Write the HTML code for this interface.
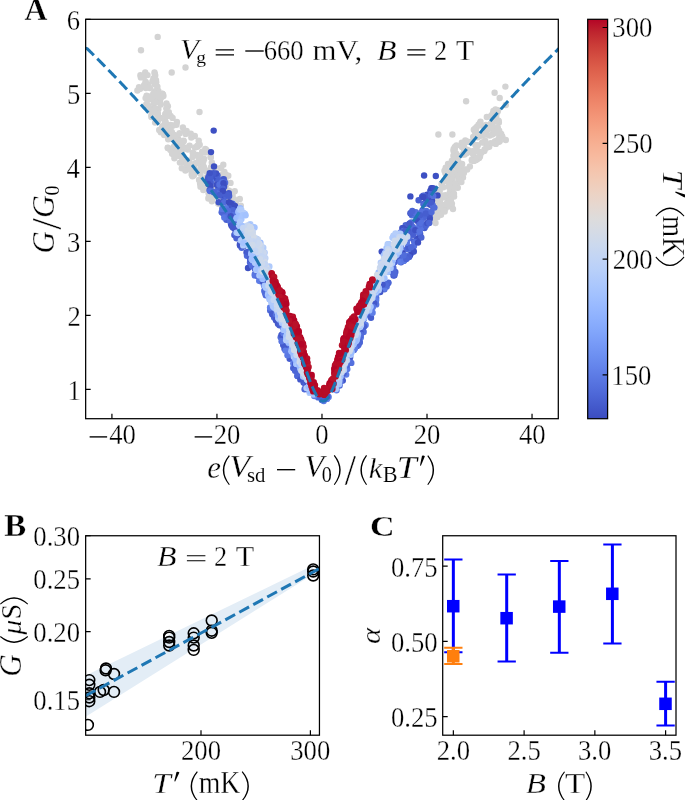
<!DOCTYPE html>
<html><head><meta charset="utf-8"><title>Figure</title><style>html,body{margin:0;padding:0;background:#fff;overflow:hidden}svg{display:block}</style></head><body>
<svg width="685" height="800" viewBox="0 0 685 800" font-family="Liberation Serif" font-size="100" style="will-change:transform">
<defs><linearGradient id="cw" x1="0" y1="0" x2="0" y2="1"><stop offset="0.0000" stop-color="#b40426"/><stop offset="0.0312" stop-color="#be242e"/><stop offset="0.0625" stop-color="#ca3b37"/><stop offset="0.0938" stop-color="#d44e41"/><stop offset="0.1250" stop-color="#dd5f4b"/><stop offset="0.1562" stop-color="#e46e56"/><stop offset="0.1875" stop-color="#eb7d62"/><stop offset="0.2188" stop-color="#f08b6e"/><stop offset="0.2500" stop-color="#f4987a"/><stop offset="0.2812" stop-color="#f6a586"/><stop offset="0.3125" stop-color="#f7b093"/><stop offset="0.3438" stop-color="#f7ba9f"/><stop offset="0.3750" stop-color="#f5c4ac"/><stop offset="0.4062" stop-color="#f1ccb8"/><stop offset="0.4375" stop-color="#ecd3c5"/><stop offset="0.4688" stop-color="#e5d8d1"/><stop offset="0.5000" stop-color="#dddcdc"/><stop offset="0.5312" stop-color="#d5dbe5"/><stop offset="0.5625" stop-color="#ccd9ed"/><stop offset="0.5938" stop-color="#c3d5f4"/><stop offset="0.6250" stop-color="#b9d0f9"/><stop offset="0.6562" stop-color="#aec9fc"/><stop offset="0.6875" stop-color="#a3c2fe"/><stop offset="0.7188" stop-color="#98b9ff"/><stop offset="0.7500" stop-color="#8db0fe"/><stop offset="0.7812" stop-color="#82a6fb"/><stop offset="0.8125" stop-color="#779af7"/><stop offset="0.8438" stop-color="#6c8ff1"/><stop offset="0.8750" stop-color="#6282ea"/><stop offset="0.9062" stop-color="#5875e1"/><stop offset="0.9375" stop-color="#4e68d8"/><stop offset="0.9688" stop-color="#445acc"/><stop offset="1.0000" stop-color="#3b4cc0"/></linearGradient>
<clipPath id="ca"><rect x="85.66" y="19.30" width="472.64" height="399.40"/></clipPath>
<clipPath id="cb"><rect x="85.66" y="535.75" width="233.79" height="199.45"/></clipPath>
<clipPath id="cc"><rect x="442.70" y="535.75" width="233.30" height="199.45"/></clipPath></defs>
<rect width="685" height="800" fill="#fff"/>
<g clip-path="url(#ca)">
<circle cx="153.4" cy="78.4" r="3.2" fill="#d3d3d3"/><circle cx="144.3" cy="76.1" r="3.2" fill="#d3d3d3"/><circle cx="145.2" cy="72.4" r="3.2" fill="#d3d3d3"/><circle cx="140.4" cy="75.3" r="3.2" fill="#d3d3d3"/><circle cx="154.5" cy="72.4" r="3.2" fill="#d3d3d3"/><circle cx="143.7" cy="77.2" r="3.2" fill="#d3d3d3"/><circle cx="155.2" cy="75.5" r="3.2" fill="#d3d3d3"/><circle cx="154.2" cy="79.2" r="3.2" fill="#d3d3d3"/><circle cx="147.5" cy="75.1" r="3.2" fill="#d3d3d3"/><circle cx="140.9" cy="77.4" r="3.2" fill="#d3d3d3"/><circle cx="144.8" cy="85.6" r="3.2" fill="#d3d3d3"/><circle cx="140.2" cy="88.8" r="3.2" fill="#d3d3d3"/><circle cx="157.4" cy="86.8" r="3.2" fill="#d3d3d3"/><circle cx="156.2" cy="82.3" r="3.2" fill="#d3d3d3"/><circle cx="139.2" cy="88.7" r="3.2" fill="#d3d3d3"/><circle cx="139.0" cy="87.1" r="3.2" fill="#d3d3d3"/><circle cx="148.1" cy="85.0" r="3.2" fill="#d3d3d3"/><circle cx="145.7" cy="82.0" r="3.2" fill="#d3d3d3"/><circle cx="145.8" cy="88.1" r="3.2" fill="#d3d3d3"/><circle cx="152.4" cy="81.5" r="3.2" fill="#d3d3d3"/><circle cx="155.1" cy="84.5" r="3.2" fill="#d3d3d3"/><circle cx="145.6" cy="82.4" r="3.2" fill="#d3d3d3"/><circle cx="149.9" cy="88.0" r="3.2" fill="#d3d3d3"/><circle cx="144.1" cy="85.1" r="3.2" fill="#d3d3d3"/><circle cx="156.0" cy="80.1" r="3.2" fill="#d3d3d3"/><circle cx="158.4" cy="90.9" r="3.2" fill="#d3d3d3"/><circle cx="162.4" cy="93.7" r="3.2" fill="#d3d3d3"/><circle cx="162.2" cy="94.0" r="3.2" fill="#d3d3d3"/><circle cx="146.6" cy="95.6" r="3.2" fill="#d3d3d3"/><circle cx="157.7" cy="97.4" r="3.2" fill="#d3d3d3"/><circle cx="152.5" cy="96.8" r="3.2" fill="#d3d3d3"/><circle cx="154.4" cy="92.2" r="3.2" fill="#d3d3d3"/><circle cx="155.0" cy="91.1" r="3.2" fill="#d3d3d3"/><circle cx="150.2" cy="96.4" r="3.2" fill="#d3d3d3"/><circle cx="146.6" cy="98.0" r="3.2" fill="#d3d3d3"/><circle cx="158.9" cy="93.9" r="3.2" fill="#d3d3d3"/><circle cx="156.9" cy="93.8" r="3.2" fill="#d3d3d3"/><circle cx="163.4" cy="96.1" r="3.2" fill="#d3d3d3"/><circle cx="160.1" cy="99.9" r="3.2" fill="#d3d3d3"/><circle cx="145.6" cy="98.1" r="3.2" fill="#d3d3d3"/><circle cx="161.7" cy="97.1" r="3.2" fill="#d3d3d3"/><circle cx="153.2" cy="94.0" r="3.2" fill="#d3d3d3"/><circle cx="163.1" cy="94.8" r="3.2" fill="#d3d3d3"/><circle cx="153.9" cy="103.2" r="3.2" fill="#d3d3d3"/><circle cx="152.9" cy="100.0" r="3.2" fill="#d3d3d3"/><circle cx="167.9" cy="106.3" r="3.2" fill="#d3d3d3"/><circle cx="155.0" cy="109.2" r="3.2" fill="#d3d3d3"/><circle cx="152.1" cy="109.9" r="3.2" fill="#d3d3d3"/><circle cx="150.6" cy="108.2" r="3.2" fill="#d3d3d3"/><circle cx="146.6" cy="104.1" r="3.2" fill="#d3d3d3"/><circle cx="166.3" cy="108.6" r="3.2" fill="#d3d3d3"/><circle cx="156.1" cy="101.4" r="3.2" fill="#d3d3d3"/><circle cx="155.8" cy="102.6" r="3.2" fill="#d3d3d3"/><circle cx="148.1" cy="105.5" r="3.2" fill="#d3d3d3"/><circle cx="153.6" cy="108.6" r="3.2" fill="#d3d3d3"/><circle cx="146.4" cy="104.5" r="3.2" fill="#d3d3d3"/><circle cx="147.5" cy="100.0" r="3.2" fill="#d3d3d3"/><circle cx="166.5" cy="103.4" r="3.2" fill="#d3d3d3"/><circle cx="158.4" cy="108.9" r="3.2" fill="#d3d3d3"/><circle cx="160.8" cy="104.5" r="3.2" fill="#d3d3d3"/><circle cx="155.0" cy="108.6" r="3.2" fill="#d3d3d3"/><circle cx="160.6" cy="117.9" r="3.2" fill="#d3d3d3"/><circle cx="167.3" cy="115.9" r="3.2" fill="#d3d3d3"/><circle cx="165.9" cy="115.0" r="3.2" fill="#d3d3d3"/><circle cx="151.4" cy="117.0" r="3.2" fill="#d3d3d3"/><circle cx="151.5" cy="110.4" r="3.2" fill="#d3d3d3"/><circle cx="153.5" cy="112.1" r="3.2" fill="#d3d3d3"/><circle cx="153.1" cy="110.5" r="3.2" fill="#d3d3d3"/><circle cx="170.6" cy="116.0" r="3.2" fill="#d3d3d3"/><circle cx="157.9" cy="113.5" r="3.2" fill="#d3d3d3"/><circle cx="165.3" cy="114.2" r="3.2" fill="#d3d3d3"/><circle cx="172.6" cy="117.9" r="3.2" fill="#d3d3d3"/><circle cx="165.7" cy="113.8" r="3.2" fill="#d3d3d3"/><circle cx="168.2" cy="113.4" r="3.2" fill="#d3d3d3"/><circle cx="168.8" cy="112.3" r="3.2" fill="#d3d3d3"/><circle cx="166.6" cy="115.1" r="3.2" fill="#d3d3d3"/><circle cx="157.6" cy="115.3" r="3.2" fill="#d3d3d3"/><circle cx="151.4" cy="114.9" r="3.2" fill="#d3d3d3"/><circle cx="164.8" cy="120.4" r="3.2" fill="#d3d3d3"/><circle cx="176.5" cy="124.8" r="3.2" fill="#d3d3d3"/><circle cx="165.1" cy="120.2" r="3.2" fill="#d3d3d3"/><circle cx="170.5" cy="124.9" r="3.2" fill="#d3d3d3"/><circle cx="170.7" cy="127.3" r="3.2" fill="#d3d3d3"/><circle cx="168.4" cy="125.6" r="3.2" fill="#d3d3d3"/><circle cx="162.3" cy="126.2" r="3.2" fill="#d3d3d3"/><circle cx="173.1" cy="125.5" r="3.2" fill="#d3d3d3"/><circle cx="176.9" cy="121.9" r="3.2" fill="#d3d3d3"/><circle cx="182.9" cy="127.5" r="3.2" fill="#d3d3d3"/><circle cx="164.9" cy="122.9" r="3.2" fill="#d3d3d3"/><circle cx="155.1" cy="122.6" r="3.2" fill="#d3d3d3"/><circle cx="158.2" cy="120.2" r="3.2" fill="#d3d3d3"/><circle cx="161.5" cy="128.6" r="3.2" fill="#d3d3d3"/><circle cx="162.8" cy="126.9" r="3.2" fill="#d3d3d3"/><circle cx="157.4" cy="120.7" r="3.2" fill="#d3d3d3"/><circle cx="169.6" cy="126.8" r="3.2" fill="#d3d3d3"/><circle cx="167.2" cy="125.5" r="3.2" fill="#d3d3d3"/><circle cx="165.8" cy="122.7" r="3.2" fill="#d3d3d3"/><circle cx="162.9" cy="129.2" r="3.2" fill="#d3d3d3"/><circle cx="170.9" cy="137.3" r="3.2" fill="#d3d3d3"/><circle cx="168.8" cy="131.9" r="3.2" fill="#d3d3d3"/><circle cx="186.6" cy="130.9" r="3.2" fill="#d3d3d3"/><circle cx="165.5" cy="133.7" r="3.2" fill="#d3d3d3"/><circle cx="159.2" cy="130.0" r="3.2" fill="#d3d3d3"/><circle cx="171.9" cy="132.1" r="3.2" fill="#d3d3d3"/><circle cx="194.8" cy="136.0" r="3.2" fill="#d3d3d3"/><circle cx="171.9" cy="138.9" r="3.2" fill="#d3d3d3"/><circle cx="192.9" cy="136.1" r="3.2" fill="#d3d3d3"/><circle cx="184.3" cy="131.0" r="3.2" fill="#d3d3d3"/><circle cx="185.6" cy="134.0" r="3.2" fill="#d3d3d3"/><circle cx="179.6" cy="133.2" r="3.2" fill="#d3d3d3"/><circle cx="164.2" cy="135.1" r="3.2" fill="#d3d3d3"/><circle cx="191.3" cy="137.6" r="3.2" fill="#d3d3d3"/><circle cx="173.5" cy="134.8" r="3.2" fill="#d3d3d3"/><circle cx="177.2" cy="139.5" r="3.2" fill="#d3d3d3"/><circle cx="178.2" cy="138.8" r="3.2" fill="#d3d3d3"/><circle cx="171.6" cy="133.7" r="3.2" fill="#d3d3d3"/><circle cx="166.2" cy="130.6" r="3.2" fill="#d3d3d3"/><circle cx="160.8" cy="132.3" r="3.2" fill="#d3d3d3"/><circle cx="175.8" cy="135.4" r="3.2" fill="#d3d3d3"/><circle cx="162.2" cy="130.3" r="3.2" fill="#d3d3d3"/><circle cx="168.2" cy="139.2" r="3.2" fill="#d3d3d3"/><circle cx="190.8" cy="133.7" r="3.2" fill="#d3d3d3"/><circle cx="170.7" cy="131.1" r="3.2" fill="#d3d3d3"/><circle cx="168.0" cy="148.0" r="3.2" fill="#d3d3d3"/><circle cx="198.7" cy="140.7" r="3.2" fill="#d3d3d3"/><circle cx="176.9" cy="146.8" r="3.2" fill="#d3d3d3"/><circle cx="175.4" cy="144.8" r="3.2" fill="#d3d3d3"/><circle cx="205.3" cy="148.9" r="3.2" fill="#d3d3d3"/><circle cx="183.6" cy="140.7" r="3.2" fill="#d3d3d3"/><circle cx="179.8" cy="141.8" r="3.2" fill="#d3d3d3"/><circle cx="195.0" cy="147.4" r="3.2" fill="#d3d3d3"/><circle cx="177.1" cy="141.9" r="3.2" fill="#d3d3d3"/><circle cx="180.4" cy="144.3" r="3.2" fill="#d3d3d3"/><circle cx="197.5" cy="146.8" r="3.2" fill="#d3d3d3"/><circle cx="182.0" cy="143.4" r="3.2" fill="#d3d3d3"/><circle cx="177.7" cy="140.7" r="3.2" fill="#d3d3d3"/><circle cx="187.8" cy="149.5" r="3.2" fill="#d3d3d3"/><circle cx="189.6" cy="145.6" r="3.2" fill="#d3d3d3"/><circle cx="197.4" cy="145.7" r="3.2" fill="#d3d3d3"/><circle cx="176.9" cy="142.6" r="3.2" fill="#d3d3d3"/><circle cx="187.4" cy="148.9" r="3.2" fill="#d3d3d3"/><circle cx="173.4" cy="149.6" r="3.2" fill="#d3d3d3"/><circle cx="185.8" cy="147.8" r="3.2" fill="#d3d3d3"/><circle cx="199.7" cy="144.7" r="3.2" fill="#d3d3d3"/><circle cx="183.6" cy="141.3" r="3.2" fill="#d3d3d3"/><circle cx="177.8" cy="142.5" r="3.2" fill="#d3d3d3"/><circle cx="183.0" cy="148.2" r="3.2" fill="#d3d3d3"/><circle cx="167.7" cy="147.8" r="3.2" fill="#d3d3d3"/><circle cx="206.3" cy="150.0" r="3.2" fill="#d3d3d3"/><circle cx="174.4" cy="146.8" r="3.2" fill="#d3d3d3"/><circle cx="174.0" cy="146.6" r="3.2" fill="#d3d3d3"/><circle cx="172.1" cy="153.7" r="3.2" fill="#d3d3d3"/><circle cx="174.8" cy="150.7" r="3.2" fill="#d3d3d3"/><circle cx="202.4" cy="151.8" r="3.2" fill="#d3d3d3"/><circle cx="202.2" cy="152.4" r="3.2" fill="#d3d3d3"/><circle cx="170.4" cy="150.1" r="3.2" fill="#d3d3d3"/><circle cx="205.6" cy="150.6" r="3.2" fill="#d3d3d3"/><circle cx="174.4" cy="158.2" r="3.2" fill="#d3d3d3"/><circle cx="183.0" cy="159.3" r="3.2" fill="#d3d3d3"/><circle cx="192.8" cy="152.6" r="3.2" fill="#d3d3d3"/><circle cx="207.9" cy="152.0" r="3.2" fill="#d3d3d3"/><circle cx="192.9" cy="153.7" r="3.2" fill="#d3d3d3"/><circle cx="182.9" cy="155.7" r="3.2" fill="#d3d3d3"/><circle cx="210.7" cy="157.3" r="3.2" fill="#d3d3d3"/><circle cx="175.5" cy="156.0" r="3.2" fill="#d3d3d3"/><circle cx="198.8" cy="158.1" r="3.2" fill="#d3d3d3"/><circle cx="196.7" cy="154.9" r="3.2" fill="#d3d3d3"/><circle cx="181.8" cy="152.6" r="3.2" fill="#d3d3d3"/><circle cx="174.3" cy="155.2" r="3.2" fill="#d3d3d3"/><circle cx="179.2" cy="155.9" r="3.2" fill="#d3d3d3"/><circle cx="205.2" cy="152.5" r="3.2" fill="#d3d3d3"/><circle cx="181.5" cy="155.9" r="3.2" fill="#d3d3d3"/><circle cx="210.8" cy="157.0" r="3.2" fill="#d3d3d3"/><circle cx="204.2" cy="159.0" r="3.2" fill="#d3d3d3"/><circle cx="193.2" cy="153.3" r="3.2" fill="#d3d3d3"/><circle cx="175.6" cy="155.8" r="3.2" fill="#d3d3d3"/><circle cx="192.7" cy="156.9" r="3.2" fill="#d3d3d3"/><circle cx="200.1" cy="155.2" r="3.2" fill="#d3d3d3"/><circle cx="177.1" cy="150.8" r="3.2" fill="#d3d3d3"/><circle cx="195.4" cy="169.9" r="3.2" fill="#d3d3d3"/><circle cx="179.9" cy="162.6" r="3.2" fill="#d3d3d3"/><circle cx="199.2" cy="163.1" r="3.2" fill="#d3d3d3"/><circle cx="186.1" cy="160.4" r="3.2" fill="#d3d3d3"/><circle cx="183.0" cy="162.6" r="3.2" fill="#d3d3d3"/><circle cx="220.7" cy="167.9" r="3.2" fill="#d3d3d3"/><circle cx="200.6" cy="169.2" r="3.2" fill="#d3d3d3"/><circle cx="188.6" cy="160.7" r="3.2" fill="#d3d3d3"/><circle cx="194.3" cy="165.2" r="3.2" fill="#d3d3d3"/><circle cx="211.0" cy="167.3" r="3.2" fill="#d3d3d3"/><circle cx="201.6" cy="169.0" r="3.2" fill="#d3d3d3"/><circle cx="211.8" cy="162.4" r="3.2" fill="#d3d3d3"/><circle cx="187.3" cy="168.8" r="3.2" fill="#d3d3d3"/><circle cx="201.9" cy="162.1" r="3.2" fill="#d3d3d3"/><circle cx="221.0" cy="168.2" r="3.2" fill="#d3d3d3"/><circle cx="182.3" cy="160.2" r="3.2" fill="#d3d3d3"/><circle cx="200.0" cy="164.2" r="3.2" fill="#d3d3d3"/><circle cx="204.0" cy="167.8" r="3.2" fill="#d3d3d3"/><circle cx="188.6" cy="165.2" r="3.2" fill="#d3d3d3"/><circle cx="203.6" cy="166.5" r="3.2" fill="#d3d3d3"/><circle cx="190.4" cy="169.5" r="3.2" fill="#d3d3d3"/><circle cx="189.4" cy="161.2" r="3.2" fill="#d3d3d3"/><circle cx="195.2" cy="163.3" r="3.2" fill="#d3d3d3"/><circle cx="203.2" cy="161.7" r="3.2" fill="#d3d3d3"/><circle cx="181.8" cy="168.2" r="3.2" fill="#d3d3d3"/><circle cx="186.0" cy="169.1" r="3.2" fill="#d3d3d3"/><circle cx="196.2" cy="163.1" r="3.2" fill="#d3d3d3"/><circle cx="186.9" cy="164.2" r="3.2" fill="#d3d3d3"/><circle cx="214.9" cy="167.3" r="3.2" fill="#d3d3d3"/><circle cx="191.9" cy="172.3" r="3.2" fill="#d3d3d3"/><circle cx="193.9" cy="175.2" r="3.2" fill="#d3d3d3"/><circle cx="225.3" cy="179.4" r="3.2" fill="#d3d3d3"/><circle cx="207.2" cy="178.3" r="3.2" fill="#d3d3d3"/><circle cx="206.0" cy="177.9" r="3.2" fill="#d3d3d3"/><circle cx="191.7" cy="174.6" r="3.2" fill="#d3d3d3"/><circle cx="211.4" cy="170.4" r="3.2" fill="#d3d3d3"/><circle cx="224.4" cy="171.9" r="3.2" fill="#d3d3d3"/><circle cx="211.6" cy="175.7" r="3.2" fill="#d3d3d3"/><circle cx="203.2" cy="178.9" r="3.2" fill="#d3d3d3"/><circle cx="192.2" cy="170.1" r="3.2" fill="#d3d3d3"/><circle cx="193.5" cy="174.6" r="3.2" fill="#d3d3d3"/><circle cx="216.0" cy="172.8" r="3.2" fill="#d3d3d3"/><circle cx="200.5" cy="173.8" r="3.2" fill="#d3d3d3"/><circle cx="207.1" cy="172.3" r="3.2" fill="#d3d3d3"/><circle cx="199.1" cy="180.0" r="3.2" fill="#d3d3d3"/><circle cx="221.6" cy="178.4" r="3.2" fill="#d3d3d3"/><circle cx="210.5" cy="176.0" r="3.2" fill="#d3d3d3"/><circle cx="192.1" cy="175.2" r="3.2" fill="#d3d3d3"/><circle cx="228.3" cy="175.7" r="3.2" fill="#d3d3d3"/><circle cx="208.5" cy="177.3" r="3.2" fill="#d3d3d3"/><circle cx="222.6" cy="174.4" r="3.2" fill="#d3d3d3"/><circle cx="191.4" cy="170.1" r="3.2" fill="#d3d3d3"/><circle cx="217.7" cy="179.6" r="3.2" fill="#d3d3d3"/><circle cx="212.0" cy="178.3" r="3.2" fill="#d3d3d3"/><circle cx="205.8" cy="170.4" r="3.2" fill="#d3d3d3"/><circle cx="192.5" cy="176.3" r="3.2" fill="#d3d3d3"/><circle cx="225.8" cy="174.8" r="3.2" fill="#d3d3d3"/><circle cx="185.4" cy="170.6" r="3.2" fill="#d3d3d3"/><circle cx="212.4" cy="171.0" r="3.2" fill="#d3d3d3"/><circle cx="207.2" cy="188.9" r="3.2" fill="#d3d3d3"/><circle cx="209.1" cy="188.4" r="3.2" fill="#d3d3d3"/><circle cx="225.9" cy="185.4" r="3.2" fill="#d3d3d3"/><circle cx="212.1" cy="181.2" r="3.2" fill="#d3d3d3"/><circle cx="213.9" cy="188.7" r="3.2" fill="#d3d3d3"/><circle cx="216.8" cy="188.0" r="3.2" fill="#d3d3d3"/><circle cx="216.1" cy="189.4" r="3.2" fill="#d3d3d3"/><circle cx="203.7" cy="188.2" r="3.2" fill="#d3d3d3"/><circle cx="201.5" cy="183.4" r="3.2" fill="#d3d3d3"/><circle cx="211.7" cy="184.0" r="3.2" fill="#d3d3d3"/><circle cx="210.9" cy="182.4" r="3.2" fill="#d3d3d3"/><circle cx="220.2" cy="186.8" r="3.2" fill="#d3d3d3"/><circle cx="222.0" cy="182.4" r="3.2" fill="#d3d3d3"/><circle cx="214.9" cy="187.1" r="3.2" fill="#d3d3d3"/><circle cx="203.7" cy="184.6" r="3.2" fill="#d3d3d3"/><circle cx="213.7" cy="188.3" r="3.2" fill="#d3d3d3"/><circle cx="230.5" cy="182.9" r="3.2" fill="#d3d3d3"/><circle cx="203.2" cy="183.1" r="3.2" fill="#d3d3d3"/><circle cx="215.7" cy="183.8" r="3.2" fill="#d3d3d3"/><circle cx="213.3" cy="186.1" r="3.2" fill="#d3d3d3"/><circle cx="200.5" cy="186.8" r="3.2" fill="#d3d3d3"/><circle cx="218.0" cy="189.3" r="3.2" fill="#d3d3d3"/><circle cx="213.6" cy="184.5" r="3.2" fill="#d3d3d3"/><circle cx="226.1" cy="182.8" r="3.2" fill="#d3d3d3"/><circle cx="200.8" cy="184.5" r="3.2" fill="#d3d3d3"/><circle cx="214.3" cy="183.5" r="3.2" fill="#d3d3d3"/><circle cx="200.1" cy="183.6" r="3.2" fill="#d3d3d3"/><circle cx="212.4" cy="198.9" r="3.2" fill="#d3d3d3"/><circle cx="220.6" cy="197.3" r="3.2" fill="#d3d3d3"/><circle cx="227.9" cy="195.0" r="3.2" fill="#d3d3d3"/><circle cx="219.7" cy="190.2" r="3.2" fill="#d3d3d3"/><circle cx="219.5" cy="194.6" r="3.2" fill="#d3d3d3"/><circle cx="203.3" cy="190.0" r="3.2" fill="#d3d3d3"/><circle cx="220.6" cy="194.9" r="3.2" fill="#d3d3d3"/><circle cx="208.6" cy="193.3" r="3.2" fill="#d3d3d3"/><circle cx="227.2" cy="193.6" r="3.2" fill="#d3d3d3"/><circle cx="231.9" cy="198.2" r="3.2" fill="#d3d3d3"/><circle cx="214.5" cy="190.0" r="3.2" fill="#d3d3d3"/><circle cx="232.4" cy="194.9" r="3.2" fill="#d3d3d3"/><circle cx="232.3" cy="195.6" r="3.2" fill="#d3d3d3"/><circle cx="208.9" cy="196.9" r="3.2" fill="#d3d3d3"/><circle cx="225.9" cy="199.8" r="3.2" fill="#d3d3d3"/><circle cx="214.6" cy="196.0" r="3.2" fill="#d3d3d3"/><circle cx="239.8" cy="199.0" r="3.2" fill="#d3d3d3"/><circle cx="221.0" cy="193.4" r="3.2" fill="#d3d3d3"/><circle cx="229.1" cy="190.6" r="3.2" fill="#d3d3d3"/><circle cx="213.9" cy="196.4" r="3.2" fill="#d3d3d3"/><circle cx="225.0" cy="198.3" r="3.2" fill="#d3d3d3"/><circle cx="234.1" cy="199.3" r="3.2" fill="#d3d3d3"/><circle cx="211.5" cy="191.0" r="3.2" fill="#d3d3d3"/><circle cx="208.4" cy="198.5" r="3.2" fill="#d3d3d3"/><circle cx="234.7" cy="191.3" r="3.2" fill="#d3d3d3"/><circle cx="233.2" cy="208.1" r="3.2" fill="#d3d3d3"/><circle cx="218.2" cy="203.4" r="3.2" fill="#d3d3d3"/><circle cx="211.9" cy="201.3" r="3.2" fill="#d3d3d3"/><circle cx="234.9" cy="205.9" r="3.2" fill="#d3d3d3"/><circle cx="235.8" cy="201.4" r="3.2" fill="#d3d3d3"/><circle cx="233.5" cy="204.9" r="3.2" fill="#d3d3d3"/><circle cx="229.3" cy="206.6" r="3.2" fill="#d3d3d3"/><circle cx="235.1" cy="208.0" r="3.2" fill="#d3d3d3"/><circle cx="224.1" cy="205.0" r="3.2" fill="#d3d3d3"/><circle cx="226.8" cy="202.5" r="3.2" fill="#d3d3d3"/><circle cx="234.4" cy="207.2" r="3.2" fill="#d3d3d3"/><circle cx="237.3" cy="205.6" r="3.2" fill="#d3d3d3"/><circle cx="219.4" cy="204.0" r="3.2" fill="#d3d3d3"/><circle cx="240.8" cy="205.6" r="3.2" fill="#d3d3d3"/><circle cx="223.5" cy="200.4" r="3.2" fill="#d3d3d3"/><circle cx="498.1" cy="120.4" r="3.2" fill="#d3d3d3"/><circle cx="494.1" cy="112.6" r="3.2" fill="#d3d3d3"/><circle cx="493.4" cy="111.0" r="3.2" fill="#d3d3d3"/><circle cx="496.1" cy="112.8" r="3.2" fill="#d3d3d3"/><circle cx="496.5" cy="112.2" r="3.2" fill="#d3d3d3"/><circle cx="497.7" cy="111.4" r="3.2" fill="#d3d3d3"/><circle cx="498.7" cy="121.0" r="3.2" fill="#d3d3d3"/><circle cx="496.5" cy="111.0" r="3.2" fill="#d3d3d3"/><circle cx="492.7" cy="113.8" r="3.2" fill="#d3d3d3"/><circle cx="495.5" cy="109.4" r="3.2" fill="#d3d3d3"/><circle cx="491.2" cy="115.7" r="3.2" fill="#d3d3d3"/><circle cx="498.0" cy="110.3" r="3.2" fill="#d3d3d3"/><circle cx="494.0" cy="118.7" r="3.2" fill="#d3d3d3"/><circle cx="486.8" cy="117.0" r="3.2" fill="#d3d3d3"/><circle cx="496.3" cy="115.7" r="3.2" fill="#d3d3d3"/><circle cx="501.2" cy="133.9" r="3.2" fill="#d3d3d3"/><circle cx="480.6" cy="125.3" r="3.2" fill="#d3d3d3"/><circle cx="499.6" cy="134.7" r="3.2" fill="#d3d3d3"/><circle cx="498.9" cy="122.5" r="3.2" fill="#d3d3d3"/><circle cx="496.5" cy="131.0" r="3.2" fill="#d3d3d3"/><circle cx="484.5" cy="128.1" r="3.2" fill="#d3d3d3"/><circle cx="484.9" cy="134.2" r="3.2" fill="#d3d3d3"/><circle cx="480.0" cy="123.2" r="3.2" fill="#d3d3d3"/><circle cx="492.3" cy="134.6" r="3.2" fill="#d3d3d3"/><circle cx="490.8" cy="123.7" r="3.2" fill="#d3d3d3"/><circle cx="493.4" cy="128.0" r="3.2" fill="#d3d3d3"/><circle cx="487.9" cy="125.4" r="3.2" fill="#d3d3d3"/><circle cx="482.4" cy="135.5" r="3.2" fill="#d3d3d3"/><circle cx="475.9" cy="129.5" r="3.2" fill="#d3d3d3"/><circle cx="486.3" cy="134.5" r="3.2" fill="#d3d3d3"/><circle cx="494.3" cy="133.2" r="3.2" fill="#d3d3d3"/><circle cx="476.7" cy="133.2" r="3.2" fill="#d3d3d3"/><circle cx="486.8" cy="129.2" r="3.2" fill="#d3d3d3"/><circle cx="473.8" cy="129.8" r="3.2" fill="#d3d3d3"/><circle cx="494.3" cy="132.9" r="3.2" fill="#d3d3d3"/><circle cx="475.2" cy="132.0" r="3.2" fill="#d3d3d3"/><circle cx="476.7" cy="126.9" r="3.2" fill="#d3d3d3"/><circle cx="488.1" cy="127.8" r="3.2" fill="#d3d3d3"/><circle cx="499.2" cy="130.8" r="3.2" fill="#d3d3d3"/><circle cx="491.2" cy="128.8" r="3.2" fill="#d3d3d3"/><circle cx="489.7" cy="135.5" r="3.2" fill="#d3d3d3"/><circle cx="488.0" cy="129.3" r="3.2" fill="#d3d3d3"/><circle cx="496.3" cy="121.2" r="3.2" fill="#d3d3d3"/><circle cx="500.2" cy="135.2" r="3.2" fill="#d3d3d3"/><circle cx="487.6" cy="127.4" r="3.2" fill="#d3d3d3"/><circle cx="480.5" cy="121.8" r="3.2" fill="#d3d3d3"/><circle cx="475.5" cy="131.7" r="3.2" fill="#d3d3d3"/><circle cx="475.2" cy="128.4" r="3.2" fill="#d3d3d3"/><circle cx="492.7" cy="125.5" r="3.2" fill="#d3d3d3"/><circle cx="485.9" cy="125.0" r="3.2" fill="#d3d3d3"/><circle cx="475.9" cy="132.0" r="3.2" fill="#d3d3d3"/><circle cx="478.5" cy="124.8" r="3.2" fill="#d3d3d3"/><circle cx="497.8" cy="127.6" r="3.2" fill="#d3d3d3"/><circle cx="496.2" cy="141.3" r="3.2" fill="#d3d3d3"/><circle cx="499.1" cy="141.8" r="3.2" fill="#d3d3d3"/><circle cx="462.5" cy="144.9" r="3.2" fill="#d3d3d3"/><circle cx="475.3" cy="136.2" r="3.2" fill="#d3d3d3"/><circle cx="464.0" cy="145.1" r="3.2" fill="#d3d3d3"/><circle cx="467.8" cy="141.7" r="3.2" fill="#d3d3d3"/><circle cx="454.9" cy="146.9" r="3.2" fill="#d3d3d3"/><circle cx="498.6" cy="138.7" r="3.2" fill="#d3d3d3"/><circle cx="487.5" cy="144.9" r="3.2" fill="#d3d3d3"/><circle cx="482.1" cy="142.6" r="3.2" fill="#d3d3d3"/><circle cx="466.3" cy="141.5" r="3.2" fill="#d3d3d3"/><circle cx="477.6" cy="137.2" r="3.2" fill="#d3d3d3"/><circle cx="475.5" cy="145.3" r="3.2" fill="#d3d3d3"/><circle cx="477.7" cy="145.3" r="3.2" fill="#d3d3d3"/><circle cx="502.2" cy="136.4" r="3.2" fill="#d3d3d3"/><circle cx="502.1" cy="136.6" r="3.2" fill="#d3d3d3"/><circle cx="495.8" cy="143.9" r="3.2" fill="#d3d3d3"/><circle cx="489.2" cy="146.7" r="3.2" fill="#d3d3d3"/><circle cx="483.4" cy="142.2" r="3.2" fill="#d3d3d3"/><circle cx="499.8" cy="141.1" r="3.2" fill="#d3d3d3"/><circle cx="472.0" cy="141.7" r="3.2" fill="#d3d3d3"/><circle cx="485.2" cy="140.7" r="3.2" fill="#d3d3d3"/><circle cx="494.9" cy="141.4" r="3.2" fill="#d3d3d3"/><circle cx="473.2" cy="137.0" r="3.2" fill="#d3d3d3"/><circle cx="465.3" cy="140.5" r="3.2" fill="#d3d3d3"/><circle cx="486.5" cy="146.1" r="3.2" fill="#d3d3d3"/><circle cx="474.7" cy="137.1" r="3.2" fill="#d3d3d3"/><circle cx="498.6" cy="141.1" r="3.2" fill="#d3d3d3"/><circle cx="490.8" cy="143.2" r="3.2" fill="#d3d3d3"/><circle cx="462.8" cy="143.1" r="3.2" fill="#d3d3d3"/><circle cx="462.6" cy="144.8" r="3.2" fill="#d3d3d3"/><circle cx="476.6" cy="136.1" r="3.2" fill="#d3d3d3"/><circle cx="472.0" cy="141.6" r="3.2" fill="#d3d3d3"/><circle cx="461.8" cy="142.6" r="3.2" fill="#d3d3d3"/><circle cx="479.2" cy="136.2" r="3.2" fill="#d3d3d3"/><circle cx="477.3" cy="145.7" r="3.2" fill="#d3d3d3"/><circle cx="456.4" cy="145.4" r="3.2" fill="#d3d3d3"/><circle cx="462.0" cy="146.9" r="3.2" fill="#d3d3d3"/><circle cx="471.9" cy="159.7" r="3.2" fill="#d3d3d3"/><circle cx="464.1" cy="153.9" r="3.2" fill="#d3d3d3"/><circle cx="468.6" cy="152.1" r="3.2" fill="#d3d3d3"/><circle cx="484.6" cy="149.4" r="3.2" fill="#d3d3d3"/><circle cx="476.0" cy="159.5" r="3.2" fill="#d3d3d3"/><circle cx="458.6" cy="156.0" r="3.2" fill="#d3d3d3"/><circle cx="456.1" cy="156.1" r="3.2" fill="#d3d3d3"/><circle cx="453.5" cy="150.7" r="3.2" fill="#d3d3d3"/><circle cx="453.4" cy="155.8" r="3.2" fill="#d3d3d3"/><circle cx="454.4" cy="158.3" r="3.2" fill="#d3d3d3"/><circle cx="473.6" cy="151.7" r="3.2" fill="#d3d3d3"/><circle cx="466.8" cy="153.0" r="3.2" fill="#d3d3d3"/><circle cx="480.5" cy="153.4" r="3.2" fill="#d3d3d3"/><circle cx="484.3" cy="151.1" r="3.2" fill="#d3d3d3"/><circle cx="477.2" cy="159.1" r="3.2" fill="#d3d3d3"/><circle cx="465.8" cy="149.6" r="3.2" fill="#d3d3d3"/><circle cx="476.7" cy="159.4" r="3.2" fill="#d3d3d3"/><circle cx="462.5" cy="154.6" r="3.2" fill="#d3d3d3"/><circle cx="472.6" cy="151.2" r="3.2" fill="#d3d3d3"/><circle cx="454.8" cy="149.1" r="3.2" fill="#d3d3d3"/><circle cx="456.0" cy="153.4" r="3.2" fill="#d3d3d3"/><circle cx="474.5" cy="151.7" r="3.2" fill="#d3d3d3"/><circle cx="464.6" cy="154.5" r="3.2" fill="#d3d3d3"/><circle cx="476.8" cy="150.3" r="3.2" fill="#d3d3d3"/><circle cx="453.7" cy="148.9" r="3.2" fill="#d3d3d3"/><circle cx="480.0" cy="156.6" r="3.2" fill="#d3d3d3"/><circle cx="456.7" cy="157.7" r="3.2" fill="#d3d3d3"/><circle cx="464.0" cy="151.6" r="3.2" fill="#d3d3d3"/><circle cx="457.2" cy="155.7" r="3.2" fill="#d3d3d3"/><circle cx="455.4" cy="157.5" r="3.2" fill="#d3d3d3"/><circle cx="481.2" cy="152.8" r="3.2" fill="#d3d3d3"/><circle cx="473.1" cy="154.3" r="3.2" fill="#d3d3d3"/><circle cx="487.0" cy="147.5" r="3.2" fill="#d3d3d3"/><circle cx="467.0" cy="149.7" r="3.2" fill="#d3d3d3"/><circle cx="457.8" cy="159.8" r="3.2" fill="#d3d3d3"/><circle cx="477.6" cy="157.6" r="3.2" fill="#d3d3d3"/><circle cx="479.1" cy="157.9" r="3.2" fill="#d3d3d3"/><circle cx="468.4" cy="150.4" r="3.2" fill="#d3d3d3"/><circle cx="479.7" cy="151.9" r="3.2" fill="#d3d3d3"/><circle cx="478.2" cy="157.6" r="3.2" fill="#d3d3d3"/><circle cx="474.2" cy="160.6" r="3.2" fill="#d3d3d3"/><circle cx="471.8" cy="160.4" r="3.2" fill="#d3d3d3"/><circle cx="454.5" cy="163.7" r="3.2" fill="#d3d3d3"/><circle cx="459.9" cy="163.5" r="3.2" fill="#d3d3d3"/><circle cx="473.6" cy="160.9" r="3.2" fill="#d3d3d3"/><circle cx="448.0" cy="163.9" r="3.2" fill="#d3d3d3"/><circle cx="459.2" cy="164.7" r="3.2" fill="#d3d3d3"/><circle cx="462.1" cy="163.9" r="3.2" fill="#d3d3d3"/><circle cx="475.3" cy="160.2" r="3.2" fill="#d3d3d3"/><circle cx="451.9" cy="160.6" r="3.2" fill="#d3d3d3"/><circle cx="450.4" cy="164.7" r="3.2" fill="#d3d3d3"/><circle cx="458.5" cy="163.1" r="3.2" fill="#d3d3d3"/><circle cx="457.6" cy="175.0" r="3.2" fill="#d3d3d3"/><circle cx="463.0" cy="177.6" r="3.2" fill="#d3d3d3"/><circle cx="446.5" cy="177.6" r="3.2" fill="#d3d3d3"/><circle cx="450.8" cy="174.6" r="3.2" fill="#d3d3d3"/><circle cx="456.0" cy="175.0" r="3.2" fill="#d3d3d3"/><circle cx="458.5" cy="169.3" r="3.2" fill="#d3d3d3"/><circle cx="449.3" cy="171.9" r="3.2" fill="#d3d3d3"/><circle cx="461.7" cy="168.5" r="3.2" fill="#d3d3d3"/><circle cx="445.7" cy="167.7" r="3.2" fill="#d3d3d3"/><circle cx="447.4" cy="175.3" r="3.2" fill="#d3d3d3"/><circle cx="452.2" cy="177.3" r="3.2" fill="#d3d3d3"/><circle cx="458.2" cy="171.5" r="3.2" fill="#d3d3d3"/><circle cx="463.1" cy="170.4" r="3.2" fill="#d3d3d3"/><circle cx="456.6" cy="166.9" r="3.2" fill="#d3d3d3"/><circle cx="458.4" cy="177.5" r="3.2" fill="#d3d3d3"/><circle cx="449.2" cy="173.0" r="3.2" fill="#d3d3d3"/><circle cx="469.9" cy="166.4" r="3.2" fill="#d3d3d3"/><circle cx="445.3" cy="172.9" r="3.2" fill="#d3d3d3"/><circle cx="464.8" cy="169.4" r="3.2" fill="#d3d3d3"/><circle cx="463.9" cy="172.9" r="3.2" fill="#d3d3d3"/><circle cx="467.2" cy="169.5" r="3.2" fill="#d3d3d3"/><circle cx="455.2" cy="165.9" r="3.2" fill="#d3d3d3"/><circle cx="460.7" cy="165.9" r="3.2" fill="#d3d3d3"/><circle cx="458.1" cy="169.1" r="3.2" fill="#d3d3d3"/><circle cx="444.5" cy="170.8" r="3.2" fill="#d3d3d3"/><circle cx="452.0" cy="171.7" r="3.2" fill="#d3d3d3"/><circle cx="446.9" cy="177.4" r="3.2" fill="#d3d3d3"/><circle cx="460.5" cy="172.0" r="3.2" fill="#d3d3d3"/><circle cx="446.1" cy="175.0" r="3.2" fill="#d3d3d3"/><circle cx="444.1" cy="180.7" r="3.2" fill="#d3d3d3"/><circle cx="451.2" cy="178.3" r="3.2" fill="#d3d3d3"/><circle cx="461.4" cy="182.1" r="3.2" fill="#d3d3d3"/><circle cx="460.0" cy="180.7" r="3.2" fill="#d3d3d3"/><circle cx="450.6" cy="181.3" r="3.2" fill="#d3d3d3"/><circle cx="458.5" cy="179.0" r="3.2" fill="#d3d3d3"/><circle cx="450.4" cy="181.0" r="3.2" fill="#d3d3d3"/><circle cx="452.2" cy="179.7" r="3.2" fill="#d3d3d3"/><circle cx="459.1" cy="179.8" r="3.2" fill="#d3d3d3"/><circle cx="446.6" cy="181.3" r="3.2" fill="#d3d3d3"/><circle cx="435.9" cy="194.0" r="3.2" fill="#d3d3d3"/><circle cx="443.3" cy="195.8" r="3.2" fill="#d3d3d3"/><circle cx="449.3" cy="194.9" r="3.2" fill="#d3d3d3"/><circle cx="437.6" cy="196.8" r="3.2" fill="#d3d3d3"/><circle cx="452.1" cy="191.9" r="3.2" fill="#d3d3d3"/><circle cx="454.1" cy="196.6" r="3.2" fill="#d3d3d3"/><circle cx="449.9" cy="192.1" r="3.2" fill="#d3d3d3"/><circle cx="457.8" cy="187.8" r="3.2" fill="#d3d3d3"/><circle cx="447.8" cy="196.1" r="3.2" fill="#d3d3d3"/><circle cx="449.9" cy="184.1" r="3.2" fill="#d3d3d3"/><circle cx="451.3" cy="190.1" r="3.2" fill="#d3d3d3"/><circle cx="454.0" cy="193.7" r="3.2" fill="#d3d3d3"/><circle cx="453.0" cy="186.6" r="3.2" fill="#d3d3d3"/><circle cx="445.6" cy="195.2" r="3.2" fill="#d3d3d3"/><circle cx="439.3" cy="190.2" r="3.2" fill="#d3d3d3"/><circle cx="450.6" cy="186.6" r="3.2" fill="#d3d3d3"/><circle cx="443.3" cy="187.2" r="3.2" fill="#d3d3d3"/><circle cx="436.2" cy="190.5" r="3.2" fill="#d3d3d3"/><circle cx="439.7" cy="190.9" r="3.2" fill="#d3d3d3"/><circle cx="441.6" cy="184.0" r="3.2" fill="#d3d3d3"/><circle cx="436.9" cy="196.3" r="3.2" fill="#d3d3d3"/><circle cx="457.4" cy="183.3" r="3.2" fill="#d3d3d3"/><circle cx="455.2" cy="183.6" r="3.2" fill="#d3d3d3"/><circle cx="442.4" cy="186.5" r="3.2" fill="#d3d3d3"/><circle cx="454.3" cy="187.7" r="3.2" fill="#d3d3d3"/><circle cx="455.0" cy="187.4" r="3.2" fill="#d3d3d3"/><circle cx="440.9" cy="196.3" r="3.2" fill="#d3d3d3"/><circle cx="449.2" cy="184.1" r="3.2" fill="#d3d3d3"/><circle cx="448.9" cy="187.0" r="3.2" fill="#d3d3d3"/><circle cx="450.3" cy="204.6" r="3.2" fill="#d3d3d3"/><circle cx="447.6" cy="206.2" r="3.2" fill="#d3d3d3"/><circle cx="438.8" cy="203.9" r="3.2" fill="#d3d3d3"/><circle cx="445.8" cy="207.9" r="3.2" fill="#d3d3d3"/><circle cx="451.9" cy="203.6" r="3.2" fill="#d3d3d3"/><circle cx="447.8" cy="198.9" r="3.2" fill="#d3d3d3"/><circle cx="447.5" cy="201.7" r="3.2" fill="#d3d3d3"/><circle cx="443.4" cy="197.3" r="3.2" fill="#d3d3d3"/><circle cx="446.4" cy="204.2" r="3.2" fill="#d3d3d3"/><circle cx="434.7" cy="207.3" r="3.2" fill="#d3d3d3"/><circle cx="438.3" cy="209.9" r="3.2" fill="#d3d3d3"/><circle cx="450.5" cy="202.7" r="3.2" fill="#d3d3d3"/><circle cx="443.2" cy="205.3" r="3.2" fill="#d3d3d3"/><circle cx="433.4" cy="198.7" r="3.2" fill="#d3d3d3"/><circle cx="440.2" cy="200.6" r="3.2" fill="#d3d3d3"/><circle cx="441.7" cy="207.0" r="3.2" fill="#d3d3d3"/><circle cx="432.6" cy="206.1" r="3.2" fill="#d3d3d3"/><circle cx="451.8" cy="206.9" r="3.2" fill="#d3d3d3"/><circle cx="433.9" cy="197.9" r="3.2" fill="#d3d3d3"/><circle cx="450.9" cy="199.7" r="3.2" fill="#d3d3d3"/><circle cx="437.2" cy="201.5" r="3.2" fill="#d3d3d3"/><circle cx="447.0" cy="203.8" r="3.2" fill="#d3d3d3"/><circle cx="450.2" cy="200.1" r="3.2" fill="#d3d3d3"/><circle cx="448.1" cy="203.9" r="3.2" fill="#d3d3d3"/><circle cx="448.8" cy="203.5" r="3.2" fill="#d3d3d3"/><circle cx="437.3" cy="217.3" r="3.2" fill="#d3d3d3"/><circle cx="438.9" cy="214.8" r="3.2" fill="#d3d3d3"/><circle cx="438.6" cy="211.7" r="3.2" fill="#d3d3d3"/><circle cx="432.8" cy="212.6" r="3.2" fill="#d3d3d3"/><circle cx="433.6" cy="217.5" r="3.2" fill="#d3d3d3"/><circle cx="433.6" cy="215.8" r="3.2" fill="#d3d3d3"/><circle cx="441.0" cy="214.7" r="3.2" fill="#d3d3d3"/><circle cx="444.7" cy="211.6" r="3.2" fill="#d3d3d3"/><circle cx="443.5" cy="210.4" r="3.2" fill="#d3d3d3"/><circle cx="433.7" cy="220.7" r="3.2" fill="#d3d3d3"/><circle cx="433.9" cy="218.6" r="3.2" fill="#d3d3d3"/><circle cx="157.7" cy="36.9" r="3.2" fill="#d3d3d3"/><circle cx="141.0" cy="50.2" r="3.2" fill="#d3d3d3"/><circle cx="171.7" cy="72.5" r="3.2" fill="#d3d3d3"/><circle cx="185.5" cy="67.5" r="3.2" fill="#d3d3d3"/><circle cx="199.5" cy="112.0" r="3.2" fill="#d3d3d3"/><circle cx="223.3" cy="164.7" r="3.2" fill="#d3d3d3"/><circle cx="154.9" cy="74.1" r="3.2" fill="#d3d3d3"/><circle cx="137.4" cy="90.5" r="3.2" fill="#d3d3d3"/><circle cx="466.1" cy="101.2" r="3.2" fill="#d3d3d3"/><circle cx="438.4" cy="134.5" r="3.2" fill="#d3d3d3"/><circle cx="452.4" cy="134.5" r="3.2" fill="#d3d3d3"/><circle cx="505.8" cy="140.0" r="3.2" fill="#d3d3d3"/><circle cx="505.8" cy="105.0" r="3.2" fill="#d3d3d3"/><circle cx="453.0" cy="209.0" r="3.2" fill="#d3d3d3"/><circle cx="435.5" cy="223.0" r="3.2" fill="#d3d3d3"/><circle cx="505.4" cy="86.6" r="3.2" fill="#d3d3d3"/><circle cx="494.6" cy="92.8" r="3.2" fill="#d3d3d3"/><circle cx="499.7" cy="98.0" r="3.2" fill="#d3d3d3"/><circle cx="215.0" cy="178.5" r="3.2" fill="#3d50c3"/><circle cx="208.4" cy="177.1" r="3.2" fill="#3c4ec2"/><circle cx="209.5" cy="175.4" r="3.2" fill="#4961d2"/><circle cx="211.2" cy="181.4" r="3.2" fill="#5977e3"/><circle cx="217.5" cy="175.5" r="3.2" fill="#4a63d3"/><circle cx="222.2" cy="179.8" r="3.2" fill="#5470de"/><circle cx="216.1" cy="173.5" r="3.2" fill="#3e51c5"/><circle cx="207.9" cy="179.3" r="3.2" fill="#4358cb"/><circle cx="213.4" cy="173.3" r="3.2" fill="#445acc"/><circle cx="210.5" cy="177.7" r="3.2" fill="#465ecf"/><circle cx="218.3" cy="181.0" r="3.2" fill="#4961d2"/><circle cx="223.8" cy="179.3" r="3.2" fill="#445acc"/><circle cx="209.7" cy="173.1" r="3.2" fill="#3f53c6"/><circle cx="222.7" cy="185.2" r="3.2" fill="#516ddb"/><circle cx="210.5" cy="182.9" r="3.2" fill="#455cce"/><circle cx="218.3" cy="188.8" r="3.2" fill="#4a63d3"/><circle cx="218.6" cy="184.3" r="3.2" fill="#4c66d6"/><circle cx="219.7" cy="184.7" r="3.2" fill="#516ddb"/><circle cx="216.8" cy="184.8" r="3.2" fill="#3e51c5"/><circle cx="208.4" cy="184.1" r="3.2" fill="#3c4ec2"/><circle cx="225.1" cy="182.7" r="3.2" fill="#506bda"/><circle cx="224.1" cy="186.7" r="3.2" fill="#3f53c6"/><circle cx="219.4" cy="184.8" r="3.2" fill="#5470de"/><circle cx="210.6" cy="186.3" r="3.2" fill="#3c4ec2"/><circle cx="222.2" cy="182.3" r="3.2" fill="#5572df"/><circle cx="223.5" cy="183.2" r="3.2" fill="#3c4ec2"/><circle cx="222.7" cy="188.7" r="3.2" fill="#4961d2"/><circle cx="216.6" cy="194.8" r="3.2" fill="#5673e0"/><circle cx="216.1" cy="192.7" r="3.2" fill="#516ddb"/><circle cx="222.2" cy="195.8" r="3.2" fill="#4b64d5"/><circle cx="212.0" cy="191.1" r="3.2" fill="#5977e3"/><circle cx="224.4" cy="197.0" r="3.2" fill="#4b64d5"/><circle cx="213.8" cy="192.3" r="3.2" fill="#4b64d5"/><circle cx="209.6" cy="190.1" r="3.2" fill="#445acc"/><circle cx="229.1" cy="195.9" r="3.2" fill="#485fd1"/><circle cx="228.8" cy="193.1" r="3.2" fill="#4358cb"/><circle cx="221.1" cy="194.8" r="3.2" fill="#3c4ec2"/><circle cx="210.0" cy="191.1" r="3.2" fill="#536edd"/><circle cx="224.1" cy="193.8" r="3.2" fill="#485fd1"/><circle cx="227.7" cy="195.0" r="3.2" fill="#465ecf"/><circle cx="222.8" cy="191.0" r="3.2" fill="#3b4cc0"/><circle cx="219.4" cy="195.2" r="3.2" fill="#465ecf"/><circle cx="232.4" cy="203.6" r="3.2" fill="#5875e1"/><circle cx="232.4" cy="203.9" r="3.2" fill="#5673e0"/><circle cx="223.1" cy="201.9" r="3.2" fill="#3b4cc0"/><circle cx="218.7" cy="202.3" r="3.2" fill="#4055c8"/><circle cx="224.2" cy="202.1" r="3.2" fill="#516ddb"/><circle cx="229.0" cy="202.3" r="3.2" fill="#3b4cc0"/><circle cx="231.1" cy="203.6" r="3.2" fill="#3b4cc0"/><circle cx="230.1" cy="208.5" r="3.2" fill="#3e51c5"/><circle cx="234.6" cy="213.1" r="3.2" fill="#536edd"/><circle cx="232.3" cy="211.2" r="3.2" fill="#5875e1"/><circle cx="226.4" cy="214.6" r="3.2" fill="#4e68d8"/><circle cx="235.0" cy="205.9" r="3.2" fill="#3c4ec2"/><circle cx="229.1" cy="207.9" r="3.2" fill="#4055c8"/><circle cx="225.7" cy="209.2" r="3.2" fill="#4f69d9"/><circle cx="233.0" cy="210.2" r="3.2" fill="#4c66d6"/><circle cx="221.7" cy="212.2" r="3.2" fill="#4f69d9"/><circle cx="223.9" cy="214.1" r="3.2" fill="#536edd"/><circle cx="222.8" cy="212.8" r="3.2" fill="#4c66d6"/><circle cx="225.8" cy="208.1" r="3.2" fill="#5977e3"/><circle cx="227.8" cy="210.7" r="3.2" fill="#536edd"/><circle cx="222.2" cy="208.9" r="3.2" fill="#5977e3"/><circle cx="233.7" cy="216.6" r="3.2" fill="#5977e3"/><circle cx="226.4" cy="219.7" r="3.2" fill="#485fd1"/><circle cx="233.3" cy="220.4" r="3.2" fill="#5977e3"/><circle cx="224.3" cy="217.4" r="3.2" fill="#5977e3"/><circle cx="234.1" cy="215.0" r="3.2" fill="#5572df"/><circle cx="231.0" cy="224.0" r="3.2" fill="#4055c8"/><circle cx="230.1" cy="221.0" r="3.2" fill="#506bda"/><circle cx="228.9" cy="216.9" r="3.2" fill="#5673e0"/><circle cx="234.8" cy="220.9" r="3.2" fill="#516ddb"/><circle cx="230.7" cy="216.3" r="3.2" fill="#3f53c6"/><circle cx="233.4" cy="226.1" r="3.2" fill="#3b4cc0"/><circle cx="231.6" cy="225.8" r="3.2" fill="#3f53c6"/><circle cx="234.4" cy="235.0" r="3.2" fill="#4257c9"/><circle cx="235.5" cy="233.3" r="3.2" fill="#5470de"/><circle cx="239.5" cy="237.3" r="3.2" fill="#3d50c3"/><circle cx="234.5" cy="225.8" r="3.2" fill="#465ecf"/><circle cx="232.7" cy="225.8" r="3.2" fill="#445acc"/><circle cx="234.6" cy="228.2" r="3.2" fill="#506bda"/><circle cx="234.9" cy="228.9" r="3.2" fill="#4055c8"/><circle cx="236.5" cy="238.3" r="3.2" fill="#4961d2"/><circle cx="232.9" cy="227.5" r="3.2" fill="#4358cb"/><circle cx="427.2" cy="194.8" r="3.2" fill="#3b4cc0"/><circle cx="430.4" cy="190.6" r="3.2" fill="#3e51c5"/><circle cx="432.4" cy="193.2" r="3.2" fill="#4961d2"/><circle cx="432.4" cy="188.3" r="3.2" fill="#3f53c6"/><circle cx="431.7" cy="192.6" r="3.2" fill="#5572df"/><circle cx="431.4" cy="188.2" r="3.2" fill="#3b4cc0"/><circle cx="434.3" cy="188.8" r="3.2" fill="#3e51c5"/><circle cx="432.1" cy="205.8" r="3.2" fill="#3c4ec2"/><circle cx="429.9" cy="204.4" r="3.2" fill="#3d50c3"/><circle cx="423.4" cy="204.0" r="3.2" fill="#485fd1"/><circle cx="429.4" cy="196.3" r="3.2" fill="#3b4cc0"/><circle cx="431.4" cy="201.1" r="3.2" fill="#3b4cc0"/><circle cx="428.4" cy="200.9" r="3.2" fill="#3d50c3"/><circle cx="423.3" cy="195.6" r="3.2" fill="#4358cb"/><circle cx="428.3" cy="197.7" r="3.2" fill="#506bda"/><circle cx="426.5" cy="201.0" r="3.2" fill="#4b64d5"/><circle cx="424.2" cy="197.2" r="3.2" fill="#5470de"/><circle cx="418.6" cy="200.3" r="3.2" fill="#485fd1"/><circle cx="425.2" cy="203.0" r="3.2" fill="#3d50c3"/><circle cx="423.8" cy="195.9" r="3.2" fill="#536edd"/><circle cx="426.2" cy="196.7" r="3.2" fill="#4257c9"/><circle cx="422.1" cy="196.7" r="3.2" fill="#445acc"/><circle cx="423.2" cy="197.1" r="3.2" fill="#3b4cc0"/><circle cx="430.9" cy="195.1" r="3.2" fill="#4a63d3"/><circle cx="428.5" cy="202.2" r="3.2" fill="#465ecf"/><circle cx="432.7" cy="205.3" r="3.2" fill="#536edd"/><circle cx="437.5" cy="195.4" r="3.2" fill="#3b4cc0"/><circle cx="424.4" cy="204.1" r="3.2" fill="#4f69d9"/><circle cx="432.0" cy="200.4" r="3.2" fill="#3b4cc0"/><circle cx="431.1" cy="202.6" r="3.2" fill="#455cce"/><circle cx="434.4" cy="207.6" r="3.2" fill="#506bda"/><circle cx="433.2" cy="195.9" r="3.2" fill="#5470de"/><circle cx="429.9" cy="217.8" r="3.2" fill="#506bda"/><circle cx="422.6" cy="210.2" r="3.2" fill="#4055c8"/><circle cx="429.9" cy="213.6" r="3.2" fill="#4055c8"/><circle cx="418.9" cy="216.5" r="3.2" fill="#3d50c3"/><circle cx="420.7" cy="213.3" r="3.2" fill="#4f69d9"/><circle cx="429.7" cy="219.0" r="3.2" fill="#3c4ec2"/><circle cx="426.3" cy="211.0" r="3.2" fill="#516ddb"/><circle cx="416.0" cy="215.9" r="3.2" fill="#4f69d9"/><circle cx="428.1" cy="214.7" r="3.2" fill="#3f53c6"/><circle cx="411.9" cy="215.3" r="3.2" fill="#5470de"/><circle cx="423.9" cy="217.8" r="3.2" fill="#4b64d5"/><circle cx="418.2" cy="219.1" r="3.2" fill="#3c4ec2"/><circle cx="420.4" cy="219.6" r="3.2" fill="#506bda"/><circle cx="422.5" cy="211.1" r="3.2" fill="#5470de"/><circle cx="410.4" cy="213.3" r="3.2" fill="#3d50c3"/><circle cx="411.1" cy="213.2" r="3.2" fill="#4a63d3"/><circle cx="415.8" cy="212.2" r="3.2" fill="#5470de"/><circle cx="420.0" cy="215.3" r="3.2" fill="#465ecf"/><circle cx="425.9" cy="213.4" r="3.2" fill="#465ecf"/><circle cx="431.5" cy="212.0" r="3.2" fill="#506bda"/><circle cx="412.3" cy="210.9" r="3.2" fill="#4b64d5"/><circle cx="424.5" cy="228.1" r="3.2" fill="#455cce"/><circle cx="420.5" cy="227.0" r="3.2" fill="#4b64d5"/><circle cx="406.0" cy="228.5" r="3.2" fill="#4b64d5"/><circle cx="422.4" cy="224.6" r="3.2" fill="#5572df"/><circle cx="409.7" cy="223.6" r="3.2" fill="#5572df"/><circle cx="419.5" cy="223.2" r="3.2" fill="#536edd"/><circle cx="411.1" cy="222.4" r="3.2" fill="#516ddb"/><circle cx="417.2" cy="220.8" r="3.2" fill="#3c4ec2"/><circle cx="421.5" cy="227.3" r="3.2" fill="#5673e0"/><circle cx="427.5" cy="223.4" r="3.2" fill="#3e51c5"/><circle cx="419.5" cy="224.6" r="3.2" fill="#506bda"/><circle cx="416.5" cy="228.8" r="3.2" fill="#5572df"/><circle cx="407.5" cy="227.1" r="3.2" fill="#3d50c3"/><circle cx="405.7" cy="225.1" r="3.2" fill="#4a63d3"/><circle cx="412.8" cy="227.0" r="3.2" fill="#4f69d9"/><circle cx="421.4" cy="222.9" r="3.2" fill="#5470de"/><circle cx="402.3" cy="228.1" r="3.2" fill="#4055c8"/><circle cx="425.8" cy="225.7" r="3.2" fill="#4b64d5"/><circle cx="409.4" cy="223.7" r="3.2" fill="#445acc"/><circle cx="427.2" cy="223.1" r="3.2" fill="#4055c8"/><circle cx="429.2" cy="223.0" r="3.2" fill="#4b64d5"/><circle cx="403.1" cy="228.3" r="3.2" fill="#3e51c5"/><circle cx="418.1" cy="231.2" r="3.2" fill="#3c4ec2"/><circle cx="418.7" cy="238.4" r="3.2" fill="#455cce"/><circle cx="420.1" cy="233.8" r="3.2" fill="#3d50c3"/><circle cx="403.5" cy="231.0" r="3.2" fill="#516ddb"/><circle cx="419.3" cy="232.9" r="3.2" fill="#536edd"/><circle cx="413.3" cy="232.7" r="3.2" fill="#5673e0"/><circle cx="417.1" cy="238.7" r="3.2" fill="#3b4cc0"/><circle cx="412.7" cy="230.8" r="3.2" fill="#4f69d9"/><circle cx="409.5" cy="238.2" r="3.2" fill="#5470de"/><circle cx="421.3" cy="237.4" r="3.2" fill="#4a63d3"/><circle cx="400.7" cy="232.4" r="3.2" fill="#485fd1"/><circle cx="410.6" cy="232.4" r="3.2" fill="#485fd1"/><circle cx="407.1" cy="230.0" r="3.2" fill="#3b4cc0"/><circle cx="413.2" cy="234.8" r="3.2" fill="#485fd1"/><circle cx="406.5" cy="231.8" r="3.2" fill="#4f69d9"/><circle cx="418.2" cy="231.6" r="3.2" fill="#5572df"/><circle cx="405.0" cy="234.0" r="3.2" fill="#4f69d9"/><circle cx="404.3" cy="239.4" r="3.2" fill="#5572df"/><circle cx="415.3" cy="230.1" r="3.2" fill="#3e51c5"/><circle cx="405.3" cy="231.0" r="3.2" fill="#455cce"/><circle cx="404.9" cy="239.0" r="3.2" fill="#465ecf"/><circle cx="419.6" cy="231.3" r="3.2" fill="#5673e0"/><circle cx="407.1" cy="248.9" r="3.2" fill="#4e68d8"/><circle cx="402.7" cy="253.3" r="3.2" fill="#3b4cc0"/><circle cx="416.7" cy="240.6" r="3.2" fill="#3f53c6"/><circle cx="398.2" cy="247.2" r="3.2" fill="#5470de"/><circle cx="413.0" cy="250.5" r="3.2" fill="#4c66d6"/><circle cx="397.0" cy="244.2" r="3.2" fill="#5875e1"/><circle cx="397.3" cy="249.9" r="3.2" fill="#4358cb"/><circle cx="389.8" cy="253.0" r="3.2" fill="#465ecf"/><circle cx="399.9" cy="254.8" r="3.2" fill="#4358cb"/><circle cx="408.5" cy="247.8" r="3.2" fill="#5673e0"/><circle cx="414.3" cy="241.4" r="3.2" fill="#445acc"/><circle cx="411.6" cy="252.9" r="3.2" fill="#5673e0"/><circle cx="406.6" cy="242.3" r="3.2" fill="#5470de"/><circle cx="400.8" cy="245.9" r="3.2" fill="#4f69d9"/><circle cx="408.4" cy="247.6" r="3.2" fill="#455cce"/><circle cx="398.0" cy="249.9" r="3.2" fill="#5470de"/><circle cx="400.0" cy="252.7" r="3.2" fill="#5875e1"/><circle cx="393.5" cy="247.8" r="3.2" fill="#4e68d8"/><circle cx="414.0" cy="246.1" r="3.2" fill="#5470de"/><circle cx="406.8" cy="242.8" r="3.2" fill="#5977e3"/><circle cx="395.7" cy="243.2" r="3.2" fill="#536edd"/><circle cx="400.8" cy="243.6" r="3.2" fill="#4c66d6"/><circle cx="413.8" cy="251.5" r="3.2" fill="#3f53c6"/><circle cx="411.1" cy="247.2" r="3.2" fill="#4e68d8"/><circle cx="399.7" cy="243.5" r="3.2" fill="#3c4ec2"/><circle cx="414.6" cy="242.1" r="3.2" fill="#536edd"/><circle cx="396.4" cy="242.3" r="3.2" fill="#485fd1"/><circle cx="400.1" cy="253.2" r="3.2" fill="#3c4ec2"/><circle cx="391.7" cy="253.9" r="3.2" fill="#5470de"/><circle cx="399.9" cy="247.1" r="3.2" fill="#3e51c5"/><circle cx="400.6" cy="248.3" r="3.2" fill="#4961d2"/><circle cx="398.3" cy="249.6" r="3.2" fill="#3c4ec2"/><circle cx="385.5" cy="262.8" r="3.2" fill="#516ddb"/><circle cx="403.2" cy="258.7" r="3.2" fill="#4358cb"/><circle cx="393.1" cy="258.0" r="3.2" fill="#5470de"/><circle cx="401.0" cy="262.3" r="3.2" fill="#445acc"/><circle cx="394.8" cy="262.0" r="3.2" fill="#4961d2"/><circle cx="403.7" cy="260.9" r="3.2" fill="#5572df"/><circle cx="405.1" cy="255.9" r="3.2" fill="#4a63d3"/><circle cx="394.9" cy="258.0" r="3.2" fill="#3e51c5"/><circle cx="389.5" cy="264.6" r="3.2" fill="#4a63d3"/><circle cx="403.0" cy="255.9" r="3.2" fill="#455cce"/><circle cx="388.2" cy="256.2" r="3.2" fill="#516ddb"/><circle cx="388.9" cy="256.0" r="3.2" fill="#5572df"/><circle cx="392.8" cy="263.9" r="3.2" fill="#536edd"/><circle cx="410.0" cy="255.2" r="3.2" fill="#3b4cc0"/><circle cx="400.4" cy="260.8" r="3.2" fill="#4c66d6"/><circle cx="391.7" cy="258.5" r="3.2" fill="#4e68d8"/><circle cx="401.1" cy="260.8" r="3.2" fill="#4c66d6"/><circle cx="390.2" cy="255.6" r="3.2" fill="#485fd1"/><circle cx="213.7" cy="130.6" r="3.2" fill="#3d50c3"/><circle cx="211.0" cy="152.1" r="3.2" fill="#3d50c3"/><circle cx="214.0" cy="166.5" r="3.2" fill="#3d50c3"/><circle cx="424.1" cy="175.5" r="3.2" fill="#3d50c3"/><circle cx="435.8" cy="176.0" r="3.2" fill="#3d50c3"/><circle cx="410.4" cy="196.4" r="3.2" fill="#3d50c3"/><circle cx="381.7" cy="251.6" r="3.2" fill="#3d50c3"/><circle cx="418.0" cy="242.6" r="3.2" fill="#3d50c3"/><circle cx="407.0" cy="258.0" r="3.2" fill="#3d50c3"/><circle cx="248.0" cy="268.0" r="3.2" fill="#3d50c3"/><circle cx="241.7" cy="247.8" r="3.2" fill="#506bda"/><circle cx="242.2" cy="244.0" r="3.2" fill="#5470de"/><circle cx="240.0" cy="245.6" r="3.2" fill="#4358cb"/><circle cx="243.7" cy="246.1" r="3.2" fill="#4358cb"/><circle cx="239.9" cy="244.2" r="3.2" fill="#4055c8"/><circle cx="250.0" cy="262.5" r="3.2" fill="#4f69d9"/><circle cx="252.8" cy="266.6" r="3.2" fill="#485fd1"/><circle cx="256.3" cy="269.2" r="3.2" fill="#5572df"/><circle cx="246.5" cy="252.4" r="3.2" fill="#4055c8"/><circle cx="247.0" cy="255.7" r="3.2" fill="#4e68d8"/><circle cx="252.0" cy="265.8" r="3.2" fill="#5470de"/><circle cx="250.1" cy="259.0" r="3.2" fill="#455cce"/><circle cx="255.1" cy="268.0" r="3.2" fill="#5d7ce6"/><circle cx="255.1" cy="269.0" r="3.2" fill="#4961d2"/><circle cx="255.0" cy="268.3" r="3.2" fill="#4f69d9"/><circle cx="247.8" cy="252.0" r="3.2" fill="#465ecf"/><circle cx="255.9" cy="273.5" r="3.2" fill="#5b7ae5"/><circle cx="254.8" cy="275.4" r="3.2" fill="#5977e3"/><circle cx="260.9" cy="281.3" r="3.2" fill="#536edd"/><circle cx="264.9" cy="286.2" r="3.2" fill="#485fd1"/><circle cx="261.2" cy="277.3" r="3.2" fill="#5a78e4"/><circle cx="259.2" cy="280.8" r="3.2" fill="#5d7ce6"/><circle cx="256.7" cy="275.7" r="3.2" fill="#536edd"/><circle cx="264.0" cy="285.3" r="3.2" fill="#5572df"/><circle cx="254.8" cy="274.1" r="3.2" fill="#5875e1"/><circle cx="263.0" cy="281.5" r="3.2" fill="#4257c9"/><circle cx="265.6" cy="289.7" r="3.2" fill="#4961d2"/><circle cx="264.4" cy="291.2" r="3.2" fill="#5f7fe8"/><circle cx="272.3" cy="299.4" r="3.2" fill="#5a78e4"/><circle cx="265.8" cy="295.2" r="3.2" fill="#506bda"/><circle cx="265.1" cy="292.9" r="3.2" fill="#516ddb"/><circle cx="271.1" cy="296.8" r="3.2" fill="#5977e3"/><circle cx="264.6" cy="290.2" r="3.2" fill="#516ddb"/><circle cx="272.0" cy="298.5" r="3.2" fill="#516ddb"/><circle cx="270.2" cy="310.4" r="3.2" fill="#4e68d8"/><circle cx="274.1" cy="317.5" r="3.2" fill="#506bda"/><circle cx="281.2" cy="319.1" r="3.2" fill="#4055c8"/><circle cx="270.1" cy="307.5" r="3.2" fill="#5f7fe8"/><circle cx="275.0" cy="316.4" r="3.2" fill="#4c66d6"/><circle cx="272.2" cy="314.2" r="3.2" fill="#455cce"/><circle cx="275.2" cy="316.2" r="3.2" fill="#485fd1"/><circle cx="279.2" cy="318.4" r="3.2" fill="#5b7ae5"/><circle cx="276.6" cy="316.1" r="3.2" fill="#455cce"/><circle cx="276.1" cy="314.5" r="3.2" fill="#5673e0"/><circle cx="277.7" cy="314.1" r="3.2" fill="#4257c9"/><circle cx="274.2" cy="305.0" r="3.2" fill="#5572df"/><circle cx="280.7" cy="337.3" r="3.2" fill="#506bda"/><circle cx="276.0" cy="320.2" r="3.2" fill="#4257c9"/><circle cx="278.0" cy="323.8" r="3.2" fill="#4257c9"/><circle cx="283.8" cy="333.0" r="3.2" fill="#5572df"/><circle cx="283.4" cy="339.5" r="3.2" fill="#485fd1"/><circle cx="283.0" cy="326.1" r="3.2" fill="#5470de"/><circle cx="281.5" cy="335.0" r="3.2" fill="#445acc"/><circle cx="285.0" cy="329.5" r="3.2" fill="#485fd1"/><circle cx="285.6" cy="335.3" r="3.2" fill="#4b64d5"/><circle cx="287.0" cy="334.0" r="3.2" fill="#465ecf"/><circle cx="279.5" cy="325.2" r="3.2" fill="#465ecf"/><circle cx="283.1" cy="328.0" r="3.2" fill="#5b7ae5"/><circle cx="283.5" cy="333.3" r="3.2" fill="#5d7ce6"/><circle cx="281.2" cy="323.7" r="3.2" fill="#4b64d5"/><circle cx="289.7" cy="358.7" r="3.2" fill="#485fd1"/><circle cx="286.0" cy="342.3" r="3.2" fill="#5572df"/><circle cx="291.3" cy="345.8" r="3.2" fill="#5977e3"/><circle cx="288.5" cy="345.4" r="3.2" fill="#5470de"/><circle cx="287.9" cy="342.7" r="3.2" fill="#5470de"/><circle cx="290.1" cy="357.4" r="3.2" fill="#445acc"/><circle cx="292.8" cy="350.9" r="3.2" fill="#445acc"/><circle cx="283.5" cy="344.1" r="3.2" fill="#5f7fe8"/><circle cx="287.5" cy="355.2" r="3.2" fill="#5a78e4"/><circle cx="284.5" cy="348.7" r="3.2" fill="#4257c9"/><circle cx="283.2" cy="345.0" r="3.2" fill="#455cce"/><circle cx="282.8" cy="341.3" r="3.2" fill="#4358cb"/><circle cx="291.6" cy="348.5" r="3.2" fill="#5977e3"/><circle cx="285.5" cy="350.6" r="3.2" fill="#5e7de7"/><circle cx="281.6" cy="341.3" r="3.2" fill="#5875e1"/><circle cx="299.9" cy="371.3" r="3.2" fill="#4961d2"/><circle cx="302.9" cy="376.1" r="3.2" fill="#4257c9"/><circle cx="302.5" cy="377.2" r="3.2" fill="#5a78e4"/><circle cx="299.1" cy="368.6" r="3.2" fill="#5d7ce6"/><circle cx="297.6" cy="376.1" r="3.2" fill="#455cce"/><circle cx="297.2" cy="371.7" r="3.2" fill="#5b7ae5"/><circle cx="293.2" cy="368.1" r="3.2" fill="#4b64d5"/><circle cx="301.9" cy="377.3" r="3.2" fill="#455cce"/><circle cx="293.3" cy="363.4" r="3.2" fill="#5e7de7"/><circle cx="294.7" cy="369.3" r="3.2" fill="#465ecf"/><circle cx="295.1" cy="364.5" r="3.2" fill="#465ecf"/><circle cx="296.6" cy="361.9" r="3.2" fill="#5470de"/><circle cx="295.1" cy="370.7" r="3.2" fill="#4c66d6"/><circle cx="297.3" cy="375.8" r="3.2" fill="#4e68d8"/><circle cx="300.3" cy="379.4" r="3.2" fill="#4358cb"/><circle cx="311.5" cy="388.8" r="3.2" fill="#4358cb"/><circle cx="307.5" cy="383.0" r="3.2" fill="#445acc"/><circle cx="304.6" cy="389.3" r="3.2" fill="#4e68d8"/><circle cx="309.9" cy="389.0" r="3.2" fill="#5977e3"/><circle cx="303.6" cy="382.5" r="3.2" fill="#445acc"/><circle cx="311.5" cy="391.9" r="3.2" fill="#4c66d6"/><circle cx="305.5" cy="384.9" r="3.2" fill="#4b64d5"/><circle cx="306.8" cy="382.6" r="3.2" fill="#455cce"/><circle cx="309.6" cy="391.3" r="3.2" fill="#4e68d8"/><circle cx="404.2" cy="255.6" r="3.2" fill="#5673e0"/><circle cx="399.2" cy="255.2" r="3.2" fill="#4055c8"/><circle cx="399.3" cy="256.1" r="3.2" fill="#4e68d8"/><circle cx="406.8" cy="255.8" r="3.2" fill="#5673e0"/><circle cx="397.5" cy="256.8" r="3.2" fill="#4961d2"/><circle cx="400.5" cy="261.8" r="3.2" fill="#5e7de7"/><circle cx="409.1" cy="256.9" r="3.2" fill="#4961d2"/><circle cx="404.4" cy="260.3" r="3.2" fill="#5a78e4"/><circle cx="406.3" cy="258.9" r="3.2" fill="#4b64d5"/><circle cx="403.5" cy="255.4" r="3.2" fill="#516ddb"/><circle cx="394.4" cy="275.3" r="3.2" fill="#445acc"/><circle cx="395.3" cy="272.0" r="3.2" fill="#465ecf"/><circle cx="391.0" cy="269.5" r="3.2" fill="#4e68d8"/><circle cx="391.9" cy="271.9" r="3.2" fill="#516ddb"/><circle cx="387.8" cy="271.7" r="3.2" fill="#4f69d9"/><circle cx="393.5" cy="275.5" r="3.2" fill="#4961d2"/><circle cx="393.5" cy="270.3" r="3.2" fill="#4f69d9"/><circle cx="392.3" cy="267.6" r="3.2" fill="#5b7ae5"/><circle cx="391.3" cy="267.8" r="3.2" fill="#5b7ae5"/><circle cx="394.5" cy="273.8" r="3.2" fill="#4e68d8"/><circle cx="393.3" cy="267.6" r="3.2" fill="#516ddb"/><circle cx="386.7" cy="286.4" r="3.2" fill="#5470de"/><circle cx="388.2" cy="283.1" r="3.2" fill="#4b64d5"/><circle cx="386.6" cy="284.1" r="3.2" fill="#445acc"/><circle cx="375.8" cy="297.2" r="3.2" fill="#4257c9"/><circle cx="384.4" cy="289.3" r="3.2" fill="#506bda"/><circle cx="374.4" cy="298.7" r="3.2" fill="#4b64d5"/><circle cx="383.8" cy="288.4" r="3.2" fill="#5e7de7"/><circle cx="388.4" cy="282.6" r="3.2" fill="#4c66d6"/><circle cx="376.2" cy="297.9" r="3.2" fill="#516ddb"/><circle cx="380.2" cy="292.1" r="3.2" fill="#4257c9"/><circle cx="385.7" cy="285.1" r="3.2" fill="#516ddb"/><circle cx="376.6" cy="293.8" r="3.2" fill="#5f7fe8"/><circle cx="382.5" cy="284.5" r="3.2" fill="#4358cb"/><circle cx="373.0" cy="302.5" r="3.2" fill="#506bda"/><circle cx="376.1" cy="300.3" r="3.2" fill="#5e7de7"/><circle cx="366.8" cy="314.0" r="3.2" fill="#506bda"/><circle cx="376.2" cy="304.4" r="3.2" fill="#5673e0"/><circle cx="371.3" cy="307.2" r="3.2" fill="#5e7de7"/><circle cx="363.9" cy="318.9" r="3.2" fill="#506bda"/><circle cx="365.6" cy="315.5" r="3.2" fill="#5572df"/><circle cx="369.2" cy="314.2" r="3.2" fill="#4f69d9"/><circle cx="371.0" cy="317.8" r="3.2" fill="#465ecf"/><circle cx="374.1" cy="303.2" r="3.2" fill="#4358cb"/><circle cx="372.9" cy="306.9" r="3.2" fill="#5a78e4"/><circle cx="372.6" cy="312.7" r="3.2" fill="#5f7fe8"/><circle cx="357.5" cy="336.9" r="3.2" fill="#5470de"/><circle cx="363.0" cy="330.9" r="3.2" fill="#5d7ce6"/><circle cx="365.6" cy="324.9" r="3.2" fill="#5d7ce6"/><circle cx="363.6" cy="332.0" r="3.2" fill="#516ddb"/><circle cx="358.7" cy="338.4" r="3.2" fill="#5977e3"/><circle cx="360.5" cy="332.3" r="3.2" fill="#4257c9"/><circle cx="360.8" cy="337.6" r="3.2" fill="#5b7ae5"/><circle cx="360.1" cy="335.8" r="3.2" fill="#465ecf"/><circle cx="360.8" cy="334.7" r="3.2" fill="#506bda"/><circle cx="356.5" cy="336.7" r="3.2" fill="#4e68d8"/><circle cx="361.7" cy="325.3" r="3.2" fill="#5977e3"/><circle cx="364.1" cy="326.6" r="3.2" fill="#4961d2"/><circle cx="357.8" cy="344.0" r="3.2" fill="#4f69d9"/><circle cx="359.5" cy="342.8" r="3.2" fill="#465ecf"/><circle cx="353.9" cy="349.9" r="3.2" fill="#5470de"/><circle cx="353.1" cy="349.7" r="3.2" fill="#4b64d5"/><circle cx="349.8" cy="358.5" r="3.2" fill="#5a78e4"/><circle cx="357.2" cy="346.1" r="3.2" fill="#455cce"/><circle cx="358.4" cy="344.9" r="3.2" fill="#4e68d8"/><circle cx="350.2" cy="357.0" r="3.2" fill="#4358cb"/><circle cx="359.8" cy="342.0" r="3.2" fill="#4c66d6"/><circle cx="354.9" cy="348.6" r="3.2" fill="#5d7ce6"/><circle cx="350.5" cy="352.7" r="3.2" fill="#5b7ae5"/><circle cx="346.2" cy="374.6" r="3.2" fill="#5e7de7"/><circle cx="344.0" cy="369.0" r="3.2" fill="#4961d2"/><circle cx="345.5" cy="368.7" r="3.2" fill="#485fd1"/><circle cx="347.3" cy="369.1" r="3.2" fill="#5a78e4"/><circle cx="347.1" cy="364.8" r="3.2" fill="#4c66d6"/><circle cx="348.1" cy="361.7" r="3.2" fill="#516ddb"/><circle cx="347.9" cy="363.0" r="3.2" fill="#5572df"/><circle cx="351.3" cy="362.9" r="3.2" fill="#5470de"/><circle cx="343.6" cy="373.2" r="3.2" fill="#4a63d3"/><circle cx="337.8" cy="384.8" r="3.2" fill="#465ecf"/><circle cx="342.8" cy="380.6" r="3.2" fill="#445acc"/><circle cx="340.2" cy="381.6" r="3.2" fill="#5d7ce6"/><circle cx="339.6" cy="385.5" r="3.2" fill="#4e68d8"/><circle cx="341.8" cy="379.1" r="3.2" fill="#4358cb"/><circle cx="336.5" cy="390.3" r="3.2" fill="#5e7de7"/><circle cx="340.5" cy="381.4" r="3.2" fill="#536edd"/><circle cx="321.9" cy="399.9" r="3.2" fill="#4a63d3"/><circle cx="327.0" cy="398.9" r="3.2" fill="#5e7de7"/><circle cx="323.7" cy="401.1" r="3.2" fill="#5b7ae5"/><circle cx="318.2" cy="397.4" r="3.2" fill="#506bda"/><circle cx="324.4" cy="399.0" r="3.2" fill="#485fd1"/><circle cx="314.3" cy="396.1" r="3.2" fill="#5e7de7"/><circle cx="328.6" cy="396.9" r="3.2" fill="#6180e9"/><circle cx="328.0" cy="396.6" r="3.2" fill="#5a78e4"/><circle cx="320.3" cy="397.2" r="3.2" fill="#4b64d5"/><circle cx="327.2" cy="396.5" r="3.2" fill="#445acc"/><circle cx="236.5" cy="218.3" r="3.2" fill="#a3c2fe"/><circle cx="236.9" cy="218.1" r="3.2" fill="#9bbcff"/><circle cx="240.3" cy="208.1" r="3.2" fill="#9bbcff"/><circle cx="247.8" cy="229.0" r="3.2" fill="#aec9fc"/><circle cx="240.0" cy="208.9" r="3.2" fill="#a1c0ff"/><circle cx="242.0" cy="228.2" r="3.2" fill="#a1c0ff"/><circle cx="240.2" cy="217.5" r="3.2" fill="#9fbfff"/><circle cx="239.1" cy="225.2" r="3.2" fill="#b3cdfb"/><circle cx="250.3" cy="224.2" r="3.2" fill="#afcafc"/><circle cx="253.9" cy="227.5" r="3.2" fill="#9bbcff"/><circle cx="244.8" cy="213.7" r="3.2" fill="#aac7fd"/><circle cx="244.2" cy="228.3" r="3.2" fill="#a5c3fe"/><circle cx="240.0" cy="226.3" r="3.2" fill="#a6c4fe"/><circle cx="242.4" cy="226.2" r="3.2" fill="#adc9fd"/><circle cx="238.7" cy="211.3" r="3.2" fill="#b6cefa"/><circle cx="238.4" cy="212.3" r="3.2" fill="#9bbcff"/><circle cx="239.7" cy="209.7" r="3.2" fill="#abc8fd"/><circle cx="254.5" cy="227.4" r="3.2" fill="#a5c3fe"/><circle cx="241.4" cy="218.9" r="3.2" fill="#a7c5fe"/><circle cx="243.0" cy="226.8" r="3.2" fill="#afcafc"/><circle cx="242.9" cy="226.8" r="3.2" fill="#a5c3fe"/><circle cx="241.3" cy="210.0" r="3.2" fill="#b1cbfc"/><circle cx="240.0" cy="221.9" r="3.2" fill="#aec9fc"/><circle cx="243.5" cy="212.9" r="3.2" fill="#b5cdfa"/><circle cx="242.7" cy="215.2" r="3.2" fill="#a7c5fe"/><circle cx="245.6" cy="215.3" r="3.2" fill="#a3c2fe"/><circle cx="248.9" cy="225.4" r="3.2" fill="#9ebeff"/><circle cx="242.2" cy="226.2" r="3.2" fill="#a5c3fe"/><circle cx="247.6" cy="238.9" r="3.2" fill="#a6c4fe"/><circle cx="248.7" cy="245.1" r="3.2" fill="#9fbfff"/><circle cx="251.2" cy="245.1" r="3.2" fill="#aac7fd"/><circle cx="250.9" cy="233.5" r="3.2" fill="#abc8fd"/><circle cx="260.4" cy="242.7" r="3.2" fill="#9dbdff"/><circle cx="240.9" cy="240.4" r="3.2" fill="#a5c3fe"/><circle cx="258.1" cy="242.9" r="3.2" fill="#a2c1ff"/><circle cx="262.4" cy="247.9" r="3.2" fill="#b5cdfa"/><circle cx="252.3" cy="238.8" r="3.2" fill="#a7c5fe"/><circle cx="241.1" cy="231.4" r="3.2" fill="#b2ccfb"/><circle cx="246.0" cy="233.6" r="3.2" fill="#aec9fc"/><circle cx="251.2" cy="238.2" r="3.2" fill="#aac7fd"/><circle cx="236.6" cy="232.6" r="3.2" fill="#a9c6fd"/><circle cx="252.7" cy="242.7" r="3.2" fill="#b6cefa"/><circle cx="237.9" cy="233.1" r="3.2" fill="#b2ccfb"/><circle cx="263.3" cy="247.8" r="3.2" fill="#b3cdfb"/><circle cx="250.7" cy="238.0" r="3.2" fill="#adc9fd"/><circle cx="249.2" cy="241.4" r="3.2" fill="#b2ccfb"/><circle cx="243.2" cy="245.4" r="3.2" fill="#b3cdfb"/><circle cx="254.4" cy="238.4" r="3.2" fill="#b6cefa"/><circle cx="246.7" cy="243.0" r="3.2" fill="#abc8fd"/><circle cx="242.8" cy="238.6" r="3.2" fill="#9fbfff"/><circle cx="251.3" cy="245.3" r="3.2" fill="#a7c5fe"/><circle cx="251.2" cy="237.1" r="3.2" fill="#adc9fd"/><circle cx="248.9" cy="245.9" r="3.2" fill="#abc8fd"/><circle cx="241.8" cy="240.2" r="3.2" fill="#b2ccfb"/><circle cx="250.9" cy="242.2" r="3.2" fill="#a9c6fd"/><circle cx="248.6" cy="240.5" r="3.2" fill="#a9c6fd"/><circle cx="250.7" cy="246.5" r="3.2" fill="#afcafc"/><circle cx="241.5" cy="230.2" r="3.2" fill="#afcafc"/><circle cx="243.3" cy="243.1" r="3.2" fill="#a5c3fe"/><circle cx="256.3" cy="238.8" r="3.2" fill="#9ebeff"/><circle cx="242.6" cy="233.1" r="3.2" fill="#a6c4fe"/><circle cx="250.0" cy="244.1" r="3.2" fill="#aec9fc"/><circle cx="244.7" cy="234.6" r="3.2" fill="#b1cbfc"/><circle cx="249.8" cy="238.7" r="3.2" fill="#a6c4fe"/><circle cx="246.5" cy="231.9" r="3.2" fill="#9dbdff"/><circle cx="252.0" cy="233.2" r="3.2" fill="#afcafc"/><circle cx="259.5" cy="249.4" r="3.2" fill="#a6c4fe"/><circle cx="251.2" cy="254.1" r="3.2" fill="#a2c1ff"/><circle cx="261.6" cy="268.3" r="3.2" fill="#aac7fd"/><circle cx="252.8" cy="260.3" r="3.2" fill="#abc8fd"/><circle cx="257.6" cy="250.1" r="3.2" fill="#a1c0ff"/><circle cx="264.8" cy="269.2" r="3.2" fill="#a9c6fd"/><circle cx="251.5" cy="252.4" r="3.2" fill="#a2c1ff"/><circle cx="263.0" cy="268.6" r="3.2" fill="#a9c6fd"/><circle cx="256.4" cy="259.5" r="3.2" fill="#adc9fd"/><circle cx="260.0" cy="259.3" r="3.2" fill="#aec9fc"/><circle cx="255.2" cy="262.9" r="3.2" fill="#b3cdfb"/><circle cx="257.5" cy="253.4" r="3.2" fill="#b5cdfa"/><circle cx="261.1" cy="269.7" r="3.2" fill="#aac7fd"/><circle cx="256.1" cy="263.0" r="3.2" fill="#a6c4fe"/><circle cx="255.3" cy="262.1" r="3.2" fill="#afcafc"/><circle cx="256.3" cy="269.9" r="3.2" fill="#b6cefa"/><circle cx="264.1" cy="259.8" r="3.2" fill="#a9c6fd"/><circle cx="251.7" cy="259.3" r="3.2" fill="#a2c1ff"/><circle cx="256.0" cy="250.8" r="3.2" fill="#adc9fd"/><circle cx="265.3" cy="258.1" r="3.2" fill="#b5cdfa"/><circle cx="253.8" cy="254.9" r="3.2" fill="#a1c0ff"/><circle cx="260.1" cy="254.3" r="3.2" fill="#afcafc"/><circle cx="263.3" cy="269.4" r="3.2" fill="#a6c4fe"/><circle cx="256.5" cy="268.9" r="3.2" fill="#a9c6fd"/><circle cx="261.7" cy="256.0" r="3.2" fill="#a3c2fe"/><circle cx="264.7" cy="252.6" r="3.2" fill="#b5cdfa"/><circle cx="257.9" cy="268.6" r="3.2" fill="#a3c2fe"/><circle cx="256.5" cy="257.6" r="3.2" fill="#aac7fd"/><circle cx="269.4" cy="266.4" r="3.2" fill="#afcafc"/><circle cx="260.9" cy="265.3" r="3.2" fill="#a3c2fe"/><circle cx="261.6" cy="269.4" r="3.2" fill="#b5cdfa"/><circle cx="258.6" cy="264.9" r="3.2" fill="#a1c0ff"/><circle cx="263.7" cy="264.4" r="3.2" fill="#abc8fd"/><circle cx="267.1" cy="286.2" r="3.2" fill="#b3cdfb"/><circle cx="274.4" cy="285.3" r="3.2" fill="#b1cbfc"/><circle cx="268.4" cy="292.4" r="3.2" fill="#9fbfff"/><circle cx="273.4" cy="281.0" r="3.2" fill="#9ebeff"/><circle cx="259.9" cy="271.8" r="3.2" fill="#a2c1ff"/><circle cx="266.0" cy="287.7" r="3.2" fill="#afcafc"/><circle cx="271.4" cy="287.5" r="3.2" fill="#b2ccfb"/><circle cx="273.1" cy="280.2" r="3.2" fill="#a7c5fe"/><circle cx="274.4" cy="289.7" r="3.2" fill="#a5c3fe"/><circle cx="268.0" cy="294.7" r="3.2" fill="#aac7fd"/><circle cx="264.7" cy="285.7" r="3.2" fill="#aac7fd"/><circle cx="276.5" cy="299.5" r="3.2" fill="#a3c2fe"/><circle cx="273.7" cy="288.2" r="3.2" fill="#afcafc"/><circle cx="275.4" cy="292.4" r="3.2" fill="#a6c4fe"/><circle cx="272.0" cy="292.4" r="3.2" fill="#a5c3fe"/><circle cx="274.5" cy="283.3" r="3.2" fill="#afcafc"/><circle cx="275.1" cy="284.8" r="3.2" fill="#adc9fd"/><circle cx="271.8" cy="287.0" r="3.2" fill="#a7c5fe"/><circle cx="262.9" cy="271.3" r="3.2" fill="#a2c1ff"/><circle cx="276.5" cy="298.3" r="3.2" fill="#9ebeff"/><circle cx="259.4" cy="275.4" r="3.2" fill="#b1cbfc"/><circle cx="270.1" cy="292.2" r="3.2" fill="#9fbfff"/><circle cx="267.7" cy="277.8" r="3.2" fill="#9ebeff"/><circle cx="260.8" cy="271.0" r="3.2" fill="#b6cefa"/><circle cx="267.3" cy="274.1" r="3.2" fill="#b5cdfa"/><circle cx="275.1" cy="296.6" r="3.2" fill="#a7c5fe"/><circle cx="276.1" cy="292.1" r="3.2" fill="#a6c4fe"/><circle cx="270.4" cy="286.7" r="3.2" fill="#9bbcff"/><circle cx="277.0" cy="296.0" r="3.2" fill="#b3cdfb"/><circle cx="261.9" cy="275.1" r="3.2" fill="#a9c6fd"/><circle cx="262.6" cy="279.0" r="3.2" fill="#9bbcff"/><circle cx="261.0" cy="275.1" r="3.2" fill="#a9c6fd"/><circle cx="269.0" cy="296.8" r="3.2" fill="#9dbdff"/><circle cx="269.5" cy="299.2" r="3.2" fill="#a1c0ff"/><circle cx="273.1" cy="292.4" r="3.2" fill="#a6c4fe"/><circle cx="270.3" cy="298.7" r="3.2" fill="#abc8fd"/><circle cx="293.4" cy="333.6" r="3.2" fill="#9ebeff"/><circle cx="282.0" cy="322.9" r="3.2" fill="#a5c3fe"/><circle cx="272.7" cy="304.7" r="3.2" fill="#b6cefa"/><circle cx="280.7" cy="314.0" r="3.2" fill="#aec9fc"/><circle cx="293.7" cy="336.2" r="3.2" fill="#abc8fd"/><circle cx="288.2" cy="338.1" r="3.2" fill="#b2ccfb"/><circle cx="278.6" cy="303.3" r="3.2" fill="#afcafc"/><circle cx="288.6" cy="328.1" r="3.2" fill="#b6cefa"/><circle cx="278.2" cy="307.5" r="3.2" fill="#a3c2fe"/><circle cx="285.9" cy="318.9" r="3.2" fill="#b1cbfc"/><circle cx="278.5" cy="318.1" r="3.2" fill="#a1c0ff"/><circle cx="287.5" cy="325.3" r="3.2" fill="#b1cbfc"/><circle cx="282.6" cy="315.3" r="3.2" fill="#a3c2fe"/><circle cx="283.6" cy="329.9" r="3.2" fill="#a6c4fe"/><circle cx="291.8" cy="335.5" r="3.2" fill="#a9c6fd"/><circle cx="279.4" cy="319.6" r="3.2" fill="#9dbdff"/><circle cx="286.7" cy="335.3" r="3.2" fill="#abc8fd"/><circle cx="283.3" cy="308.6" r="3.2" fill="#aac7fd"/><circle cx="281.0" cy="311.0" r="3.2" fill="#a5c3fe"/><circle cx="274.7" cy="308.1" r="3.2" fill="#a3c2fe"/><circle cx="290.9" cy="339.2" r="3.2" fill="#a6c4fe"/><circle cx="278.3" cy="317.9" r="3.2" fill="#b3cdfb"/><circle cx="284.4" cy="325.6" r="3.2" fill="#a6c4fe"/><circle cx="290.5" cy="334.5" r="3.2" fill="#a3c2fe"/><circle cx="282.3" cy="305.7" r="3.2" fill="#aac7fd"/><circle cx="285.7" cy="327.5" r="3.2" fill="#a5c3fe"/><circle cx="278.9" cy="309.2" r="3.2" fill="#b2ccfb"/><circle cx="276.0" cy="301.6" r="3.2" fill="#aac7fd"/><circle cx="273.1" cy="306.4" r="3.2" fill="#aac7fd"/><circle cx="285.0" cy="317.2" r="3.2" fill="#abc8fd"/><circle cx="282.9" cy="315.4" r="3.2" fill="#abc8fd"/><circle cx="277.4" cy="311.7" r="3.2" fill="#b3cdfb"/><circle cx="282.0" cy="321.6" r="3.2" fill="#b3cdfb"/><circle cx="278.0" cy="315.0" r="3.2" fill="#a1c0ff"/><circle cx="282.3" cy="311.3" r="3.2" fill="#a2c1ff"/><circle cx="286.2" cy="337.0" r="3.2" fill="#a6c4fe"/><circle cx="292.1" cy="328.4" r="3.2" fill="#b2ccfb"/><circle cx="279.4" cy="314.4" r="3.2" fill="#9bbcff"/><circle cx="274.0" cy="307.1" r="3.2" fill="#adc9fd"/><circle cx="271.2" cy="302.1" r="3.2" fill="#afcafc"/><circle cx="276.5" cy="301.9" r="3.2" fill="#9dbdff"/><circle cx="287.7" cy="317.5" r="3.2" fill="#a3c2fe"/><circle cx="307.4" cy="379.4" r="3.2" fill="#b1cbfc"/><circle cx="296.5" cy="351.1" r="3.2" fill="#a5c3fe"/><circle cx="298.4" cy="346.4" r="3.2" fill="#b6cefa"/><circle cx="295.0" cy="355.2" r="3.2" fill="#aec9fc"/><circle cx="288.7" cy="342.8" r="3.2" fill="#9dbdff"/><circle cx="305.5" cy="364.9" r="3.2" fill="#aac7fd"/><circle cx="292.5" cy="341.7" r="3.2" fill="#b1cbfc"/><circle cx="292.5" cy="346.1" r="3.2" fill="#a7c5fe"/><circle cx="302.6" cy="355.4" r="3.2" fill="#aec9fc"/><circle cx="296.4" cy="364.1" r="3.2" fill="#a2c1ff"/><circle cx="297.4" cy="355.1" r="3.2" fill="#a9c6fd"/><circle cx="300.7" cy="358.6" r="3.2" fill="#a7c5fe"/><circle cx="293.8" cy="356.7" r="3.2" fill="#b5cdfa"/><circle cx="296.3" cy="363.7" r="3.2" fill="#a2c1ff"/><circle cx="301.9" cy="364.3" r="3.2" fill="#9bbcff"/><circle cx="303.3" cy="376.6" r="3.2" fill="#b3cdfb"/><circle cx="308.6" cy="373.9" r="3.2" fill="#9fbfff"/><circle cx="297.7" cy="364.2" r="3.2" fill="#aec9fc"/><circle cx="303.1" cy="372.8" r="3.2" fill="#a2c1ff"/><circle cx="296.7" cy="340.6" r="3.2" fill="#9bbcff"/><circle cx="305.3" cy="366.8" r="3.2" fill="#a5c3fe"/><circle cx="292.8" cy="347.3" r="3.2" fill="#aec9fc"/><circle cx="303.2" cy="376.2" r="3.2" fill="#a7c5fe"/><circle cx="295.5" cy="359.3" r="3.2" fill="#9ebeff"/><circle cx="300.2" cy="368.0" r="3.2" fill="#9dbdff"/><circle cx="293.4" cy="353.8" r="3.2" fill="#a2c1ff"/><circle cx="296.1" cy="348.0" r="3.2" fill="#a5c3fe"/><circle cx="299.0" cy="353.1" r="3.2" fill="#a7c5fe"/><circle cx="303.9" cy="365.5" r="3.2" fill="#9dbdff"/><circle cx="305.9" cy="371.8" r="3.2" fill="#b3cdfb"/><circle cx="300.7" cy="359.9" r="3.2" fill="#a1c0ff"/><circle cx="291.5" cy="351.6" r="3.2" fill="#9bbcff"/><circle cx="292.3" cy="348.9" r="3.2" fill="#a2c1ff"/><circle cx="286.2" cy="340.3" r="3.2" fill="#b6cefa"/><circle cx="300.6" cy="369.3" r="3.2" fill="#9fbfff"/><circle cx="292.9" cy="349.4" r="3.2" fill="#9bbcff"/><circle cx="299.2" cy="364.6" r="3.2" fill="#9ebeff"/><circle cx="307.6" cy="374.7" r="3.2" fill="#aac7fd"/><circle cx="303.5" cy="371.0" r="3.2" fill="#a1c0ff"/><circle cx="306.7" cy="379.1" r="3.2" fill="#9dbdff"/><circle cx="292.2" cy="345.2" r="3.2" fill="#b1cbfc"/><circle cx="309.6" cy="374.8" r="3.2" fill="#adc9fd"/><circle cx="314.5" cy="393.2" r="3.2" fill="#b5cdfa"/><circle cx="313.8" cy="394.6" r="3.2" fill="#a2c1ff"/><circle cx="309.5" cy="387.0" r="3.2" fill="#a1c0ff"/><circle cx="316.2" cy="393.0" r="3.2" fill="#a1c0ff"/><circle cx="309.2" cy="385.6" r="3.2" fill="#9dbdff"/><circle cx="307.6" cy="380.1" r="3.2" fill="#a3c2fe"/><circle cx="314.2" cy="391.5" r="3.2" fill="#a5c3fe"/><circle cx="310.0" cy="388.0" r="3.2" fill="#afcafc"/><circle cx="311.9" cy="384.9" r="3.2" fill="#aec9fc"/><circle cx="308.3" cy="387.1" r="3.2" fill="#abc8fd"/><circle cx="309.7" cy="392.9" r="3.2" fill="#b3cdfb"/><circle cx="309.9" cy="391.4" r="3.2" fill="#9bbcff"/><circle cx="306.5" cy="388.1" r="3.2" fill="#b5cdfa"/><circle cx="308.7" cy="386.8" r="3.2" fill="#9bbcff"/><circle cx="398.5" cy="239.4" r="3.2" fill="#a5c3fe"/><circle cx="400.1" cy="245.4" r="3.2" fill="#a1c0ff"/><circle cx="400.8" cy="240.1" r="3.2" fill="#a2c1ff"/><circle cx="406.2" cy="235.9" r="3.2" fill="#adc9fd"/><circle cx="394.5" cy="244.4" r="3.2" fill="#adc9fd"/><circle cx="388.8" cy="244.3" r="3.2" fill="#9ebeff"/><circle cx="402.6" cy="241.2" r="3.2" fill="#afcafc"/><circle cx="404.1" cy="241.3" r="3.2" fill="#b2ccfb"/><circle cx="399.7" cy="249.5" r="3.2" fill="#9bbcff"/><circle cx="386.5" cy="248.2" r="3.2" fill="#a6c4fe"/><circle cx="392.7" cy="237.8" r="3.2" fill="#aec9fc"/><circle cx="399.5" cy="247.5" r="3.2" fill="#a6c4fe"/><circle cx="387.7" cy="244.2" r="3.2" fill="#afcafc"/><circle cx="393.4" cy="235.8" r="3.2" fill="#b5cdfa"/><circle cx="400.6" cy="240.7" r="3.2" fill="#aac7fd"/><circle cx="392.5" cy="248.0" r="3.2" fill="#9dbdff"/><circle cx="400.5" cy="243.8" r="3.2" fill="#adc9fd"/><circle cx="400.3" cy="233.8" r="3.2" fill="#b2ccfb"/><circle cx="398.0" cy="239.1" r="3.2" fill="#b1cbfc"/><circle cx="388.2" cy="244.5" r="3.2" fill="#b3cdfb"/><circle cx="398.8" cy="233.6" r="3.2" fill="#b2ccfb"/><circle cx="400.3" cy="247.2" r="3.2" fill="#aac7fd"/><circle cx="392.5" cy="249.7" r="3.2" fill="#b3cdfb"/><circle cx="387.7" cy="249.2" r="3.2" fill="#a9c6fd"/><circle cx="395.5" cy="233.4" r="3.2" fill="#b6cefa"/><circle cx="392.7" cy="237.6" r="3.2" fill="#b1cbfc"/><circle cx="384.3" cy="257.5" r="3.2" fill="#a2c1ff"/><circle cx="389.8" cy="255.2" r="3.2" fill="#a2c1ff"/><circle cx="385.1" cy="267.2" r="3.2" fill="#aac7fd"/><circle cx="392.0" cy="263.2" r="3.2" fill="#b1cbfc"/><circle cx="392.4" cy="259.1" r="3.2" fill="#b2ccfb"/><circle cx="388.8" cy="252.5" r="3.2" fill="#9ebeff"/><circle cx="385.1" cy="258.5" r="3.2" fill="#abc8fd"/><circle cx="394.4" cy="255.2" r="3.2" fill="#b6cefa"/><circle cx="393.2" cy="257.6" r="3.2" fill="#9fbfff"/><circle cx="392.9" cy="254.0" r="3.2" fill="#a7c5fe"/><circle cx="380.5" cy="268.2" r="3.2" fill="#aec9fc"/><circle cx="383.9" cy="255.3" r="3.2" fill="#a2c1ff"/><circle cx="380.8" cy="262.7" r="3.2" fill="#b5cdfa"/><circle cx="385.3" cy="267.0" r="3.2" fill="#9ebeff"/><circle cx="384.2" cy="267.9" r="3.2" fill="#9fbfff"/><circle cx="390.6" cy="267.9" r="3.2" fill="#a9c6fd"/><circle cx="395.6" cy="250.3" r="3.2" fill="#b2ccfb"/><circle cx="383.4" cy="266.3" r="3.2" fill="#abc8fd"/><circle cx="385.0" cy="253.0" r="3.2" fill="#9fbfff"/><circle cx="398.8" cy="251.9" r="3.2" fill="#abc8fd"/><circle cx="396.5" cy="254.8" r="3.2" fill="#adc9fd"/><circle cx="396.3" cy="254.7" r="3.2" fill="#9fbfff"/><circle cx="388.4" cy="252.2" r="3.2" fill="#afcafc"/><circle cx="384.4" cy="266.5" r="3.2" fill="#aac7fd"/><circle cx="393.0" cy="259.9" r="3.2" fill="#9dbdff"/><circle cx="398.1" cy="251.6" r="3.2" fill="#aec9fc"/><circle cx="383.9" cy="259.4" r="3.2" fill="#b6cefa"/><circle cx="378.6" cy="272.4" r="3.2" fill="#9dbdff"/><circle cx="378.9" cy="281.3" r="3.2" fill="#a1c0ff"/><circle cx="372.5" cy="298.1" r="3.2" fill="#9bbcff"/><circle cx="371.3" cy="297.7" r="3.2" fill="#a5c3fe"/><circle cx="378.3" cy="276.2" r="3.2" fill="#9dbdff"/><circle cx="387.8" cy="272.1" r="3.2" fill="#a3c2fe"/><circle cx="378.7" cy="290.2" r="3.2" fill="#a7c5fe"/><circle cx="382.8" cy="271.2" r="3.2" fill="#a7c5fe"/><circle cx="377.2" cy="288.5" r="3.2" fill="#a9c6fd"/><circle cx="371.5" cy="289.3" r="3.2" fill="#b5cdfa"/><circle cx="378.8" cy="288.0" r="3.2" fill="#a7c5fe"/><circle cx="376.1" cy="288.0" r="3.2" fill="#9fbfff"/><circle cx="375.6" cy="292.5" r="3.2" fill="#adc9fd"/><circle cx="372.1" cy="291.0" r="3.2" fill="#a9c6fd"/><circle cx="369.3" cy="294.9" r="3.2" fill="#9ebeff"/><circle cx="373.1" cy="285.8" r="3.2" fill="#b2ccfb"/><circle cx="372.6" cy="295.5" r="3.2" fill="#abc8fd"/><circle cx="370.1" cy="291.6" r="3.2" fill="#a2c1ff"/><circle cx="377.9" cy="290.0" r="3.2" fill="#b3cdfb"/><circle cx="376.2" cy="290.3" r="3.2" fill="#9fbfff"/><circle cx="384.5" cy="278.2" r="3.2" fill="#a1c0ff"/><circle cx="374.7" cy="286.3" r="3.2" fill="#a5c3fe"/><circle cx="383.2" cy="276.0" r="3.2" fill="#a5c3fe"/><circle cx="372.6" cy="285.6" r="3.2" fill="#b2ccfb"/><circle cx="376.2" cy="283.5" r="3.2" fill="#a3c2fe"/><circle cx="376.9" cy="280.1" r="3.2" fill="#a5c3fe"/><circle cx="382.7" cy="278.0" r="3.2" fill="#a3c2fe"/><circle cx="370.9" cy="290.4" r="3.2" fill="#abc8fd"/><circle cx="363.2" cy="309.2" r="3.2" fill="#b3cdfb"/><circle cx="370.6" cy="306.6" r="3.2" fill="#9ebeff"/><circle cx="356.8" cy="330.0" r="3.2" fill="#a1c0ff"/><circle cx="358.0" cy="334.4" r="3.2" fill="#a1c0ff"/><circle cx="357.2" cy="333.6" r="3.2" fill="#b3cdfb"/><circle cx="357.2" cy="329.5" r="3.2" fill="#b1cbfc"/><circle cx="362.6" cy="316.9" r="3.2" fill="#aac7fd"/><circle cx="357.3" cy="337.6" r="3.2" fill="#a3c2fe"/><circle cx="366.5" cy="301.9" r="3.2" fill="#b2ccfb"/><circle cx="370.1" cy="307.0" r="3.2" fill="#a7c5fe"/><circle cx="356.8" cy="324.5" r="3.2" fill="#9dbdff"/><circle cx="360.1" cy="327.0" r="3.2" fill="#b3cdfb"/><circle cx="360.1" cy="318.8" r="3.2" fill="#a9c6fd"/><circle cx="366.1" cy="306.1" r="3.2" fill="#a9c6fd"/><circle cx="364.7" cy="314.0" r="3.2" fill="#9fbfff"/><circle cx="360.3" cy="325.8" r="3.2" fill="#a6c4fe"/><circle cx="365.9" cy="311.4" r="3.2" fill="#adc9fd"/><circle cx="367.3" cy="310.1" r="3.2" fill="#9dbdff"/><circle cx="361.7" cy="317.9" r="3.2" fill="#afcafc"/><circle cx="356.0" cy="326.7" r="3.2" fill="#a6c4fe"/><circle cx="364.7" cy="311.0" r="3.2" fill="#a3c2fe"/><circle cx="353.7" cy="336.7" r="3.2" fill="#b6cefa"/><circle cx="368.1" cy="309.4" r="3.2" fill="#adc9fd"/><circle cx="364.2" cy="317.9" r="3.2" fill="#a1c0ff"/><circle cx="365.7" cy="312.3" r="3.2" fill="#aac7fd"/><circle cx="356.8" cy="323.6" r="3.2" fill="#a9c6fd"/><circle cx="369.2" cy="310.4" r="3.2" fill="#a7c5fe"/><circle cx="356.6" cy="330.3" r="3.2" fill="#9dbdff"/><circle cx="361.0" cy="325.1" r="3.2" fill="#b5cdfa"/><circle cx="356.2" cy="329.3" r="3.2" fill="#aec9fc"/><circle cx="366.9" cy="301.8" r="3.2" fill="#9ebeff"/><circle cx="356.6" cy="340.3" r="3.2" fill="#a2c1ff"/><circle cx="340.6" cy="376.4" r="3.2" fill="#a5c3fe"/><circle cx="351.6" cy="352.3" r="3.2" fill="#a9c6fd"/><circle cx="338.3" cy="377.4" r="3.2" fill="#b6cefa"/><circle cx="353.4" cy="344.5" r="3.2" fill="#aac7fd"/><circle cx="356.2" cy="340.6" r="3.2" fill="#a7c5fe"/><circle cx="350.6" cy="354.8" r="3.2" fill="#abc8fd"/><circle cx="344.0" cy="369.9" r="3.2" fill="#b1cbfc"/><circle cx="338.6" cy="376.2" r="3.2" fill="#9ebeff"/><circle cx="349.5" cy="347.3" r="3.2" fill="#afcafc"/><circle cx="353.8" cy="343.4" r="3.2" fill="#a3c2fe"/><circle cx="338.9" cy="373.7" r="3.2" fill="#a1c0ff"/><circle cx="351.0" cy="353.0" r="3.2" fill="#9bbcff"/><circle cx="339.4" cy="376.5" r="3.2" fill="#9fbfff"/><circle cx="347.0" cy="360.3" r="3.2" fill="#b6cefa"/><circle cx="344.1" cy="366.2" r="3.2" fill="#a9c6fd"/><circle cx="355.6" cy="341.6" r="3.2" fill="#a5c3fe"/><circle cx="351.4" cy="343.7" r="3.2" fill="#adc9fd"/><circle cx="351.7" cy="347.0" r="3.2" fill="#afcafc"/><circle cx="355.5" cy="340.8" r="3.2" fill="#9dbdff"/><circle cx="345.1" cy="357.3" r="3.2" fill="#a2c1ff"/><circle cx="342.8" cy="369.4" r="3.2" fill="#aac7fd"/><circle cx="340.6" cy="370.8" r="3.2" fill="#a2c1ff"/><circle cx="344.9" cy="361.4" r="3.2" fill="#9fbfff"/><circle cx="339.1" cy="384.2" r="3.2" fill="#a7c5fe"/><circle cx="335.9" cy="389.1" r="3.2" fill="#afcafc"/><circle cx="339.0" cy="379.8" r="3.2" fill="#afcafc"/><circle cx="336.8" cy="383.0" r="3.2" fill="#aac7fd"/><circle cx="333.1" cy="389.6" r="3.2" fill="#9fbfff"/><circle cx="339.3" cy="381.0" r="3.2" fill="#b1cbfc"/><circle cx="332.4" cy="387.7" r="3.2" fill="#aec9fc"/><circle cx="336.0" cy="385.1" r="3.2" fill="#b6cefa"/><circle cx="335.7" cy="385.1" r="3.2" fill="#b1cbfc"/><circle cx="252.7" cy="232.6" r="3.2" fill="#ccd9ed"/><circle cx="256.6" cy="239.3" r="3.2" fill="#cdd9ec"/><circle cx="250.0" cy="231.7" r="3.2" fill="#ccd9ed"/><circle cx="257.9" cy="239.5" r="3.2" fill="#c5d6f2"/><circle cx="250.3" cy="227.0" r="3.2" fill="#c7d7f0"/><circle cx="245.9" cy="230.5" r="3.2" fill="#c4d5f3"/><circle cx="251.0" cy="228.1" r="3.2" fill="#ccd9ed"/><circle cx="252.7" cy="231.9" r="3.2" fill="#cdd9ec"/><circle cx="243.2" cy="228.0" r="3.2" fill="#c4d5f3"/><circle cx="247.6" cy="225.4" r="3.2" fill="#c6d6f1"/><circle cx="246.9" cy="235.2" r="3.2" fill="#ccd9ed"/><circle cx="247.6" cy="230.6" r="3.2" fill="#cfdaea"/><circle cx="253.5" cy="236.4" r="3.2" fill="#d2dbe8"/><circle cx="247.2" cy="236.9" r="3.2" fill="#cbd8ee"/><circle cx="250.9" cy="232.9" r="3.2" fill="#cfdaea"/><circle cx="250.4" cy="228.8" r="3.2" fill="#d2dbe8"/><circle cx="250.0" cy="226.9" r="3.2" fill="#cdd9ec"/><circle cx="261.4" cy="246.2" r="3.2" fill="#c5d6f2"/><circle cx="259.2" cy="244.3" r="3.2" fill="#d1dae9"/><circle cx="257.9" cy="252.2" r="3.2" fill="#cad8ef"/><circle cx="259.4" cy="243.8" r="3.2" fill="#d1dae9"/><circle cx="255.0" cy="249.7" r="3.2" fill="#cdd9ec"/><circle cx="263.7" cy="252.7" r="3.2" fill="#cbd8ee"/><circle cx="261.3" cy="250.6" r="3.2" fill="#c7d7f0"/><circle cx="259.3" cy="250.4" r="3.2" fill="#cbd8ee"/><circle cx="256.1" cy="245.8" r="3.2" fill="#cad8ef"/><circle cx="259.0" cy="249.9" r="3.2" fill="#ccd9ed"/><circle cx="257.8" cy="243.3" r="3.2" fill="#cad8ef"/><circle cx="253.6" cy="241.4" r="3.2" fill="#c6d6f1"/><circle cx="255.1" cy="250.7" r="3.2" fill="#c4d5f3"/><circle cx="252.2" cy="245.3" r="3.2" fill="#ccd9ed"/><circle cx="249.8" cy="240.6" r="3.2" fill="#c9d7f0"/><circle cx="252.4" cy="244.9" r="3.2" fill="#cedaeb"/><circle cx="263.7" cy="267.4" r="3.2" fill="#ccd9ed"/><circle cx="264.8" cy="258.0" r="3.2" fill="#c4d5f3"/><circle cx="262.7" cy="259.1" r="3.2" fill="#c4d5f3"/><circle cx="264.2" cy="263.2" r="3.2" fill="#cad8ef"/><circle cx="263.3" cy="267.9" r="3.2" fill="#c9d7f0"/><circle cx="266.5" cy="267.2" r="3.2" fill="#d2dbe8"/><circle cx="261.8" cy="256.1" r="3.2" fill="#c4d5f3"/><circle cx="264.4" cy="261.6" r="3.2" fill="#cfdaea"/><circle cx="261.4" cy="258.0" r="3.2" fill="#c5d6f2"/><circle cx="263.0" cy="263.2" r="3.2" fill="#d2dbe8"/><circle cx="265.1" cy="264.3" r="3.2" fill="#c4d5f3"/><circle cx="262.0" cy="263.8" r="3.2" fill="#ccd9ed"/><circle cx="260.0" cy="259.3" r="3.2" fill="#cdd9ec"/><circle cx="270.0" cy="282.8" r="3.2" fill="#cedaeb"/><circle cx="263.0" cy="271.4" r="3.2" fill="#c7d7f0"/><circle cx="262.7" cy="271.4" r="3.2" fill="#cfdaea"/><circle cx="266.3" cy="273.9" r="3.2" fill="#cad8ef"/><circle cx="268.4" cy="285.8" r="3.2" fill="#c7d7f0"/><circle cx="270.6" cy="291.3" r="3.2" fill="#cad8ef"/><circle cx="271.2" cy="291.5" r="3.2" fill="#c5d6f2"/><circle cx="268.3" cy="270.3" r="3.2" fill="#c4d5f3"/><circle cx="268.9" cy="276.4" r="3.2" fill="#c5d6f2"/><circle cx="267.5" cy="272.4" r="3.2" fill="#d2dbe8"/><circle cx="276.0" cy="299.6" r="3.2" fill="#ccd9ed"/><circle cx="272.8" cy="288.1" r="3.2" fill="#c7d7f0"/><circle cx="273.1" cy="290.9" r="3.2" fill="#c4d5f3"/><circle cx="273.9" cy="294.3" r="3.2" fill="#c7d7f0"/><circle cx="271.7" cy="292.8" r="3.2" fill="#cad8ef"/><circle cx="271.8" cy="290.9" r="3.2" fill="#cbd8ee"/><circle cx="275.6" cy="296.7" r="3.2" fill="#cad8ef"/><circle cx="272.0" cy="289.2" r="3.2" fill="#cfdaea"/><circle cx="265.9" cy="271.5" r="3.2" fill="#cfdaea"/><circle cx="273.7" cy="299.9" r="3.2" fill="#c4d5f3"/><circle cx="289.0" cy="334.2" r="3.2" fill="#c7d7f0"/><circle cx="285.8" cy="321.6" r="3.2" fill="#cedaeb"/><circle cx="281.5" cy="315.2" r="3.2" fill="#d1dae9"/><circle cx="281.1" cy="317.7" r="3.2" fill="#ccd9ed"/><circle cx="281.6" cy="319.1" r="3.2" fill="#c7d7f0"/><circle cx="282.3" cy="311.9" r="3.2" fill="#cdd9ec"/><circle cx="293.4" cy="337.4" r="3.2" fill="#d1dae9"/><circle cx="285.1" cy="325.3" r="3.2" fill="#cad8ef"/><circle cx="286.7" cy="320.3" r="3.2" fill="#cfdaea"/><circle cx="289.4" cy="328.0" r="3.2" fill="#c5d6f2"/><circle cx="282.8" cy="316.5" r="3.2" fill="#cbd8ee"/><circle cx="277.0" cy="305.2" r="3.2" fill="#cfdaea"/><circle cx="289.6" cy="329.2" r="3.2" fill="#cad8ef"/><circle cx="279.2" cy="308.9" r="3.2" fill="#d2dbe8"/><circle cx="280.1" cy="312.7" r="3.2" fill="#cedaeb"/><circle cx="282.6" cy="319.4" r="3.2" fill="#cad8ef"/><circle cx="291.2" cy="333.6" r="3.2" fill="#cad8ef"/><circle cx="278.4" cy="303.4" r="3.2" fill="#ccd9ed"/><circle cx="277.2" cy="309.3" r="3.2" fill="#c5d6f2"/><circle cx="276.9" cy="303.6" r="3.2" fill="#c9d7f0"/><circle cx="289.4" cy="331.3" r="3.2" fill="#cedaeb"/><circle cx="283.9" cy="318.7" r="3.2" fill="#cfdaea"/><circle cx="288.9" cy="336.9" r="3.2" fill="#cedaeb"/><circle cx="279.0" cy="306.4" r="3.2" fill="#ccd9ed"/><circle cx="295.9" cy="346.7" r="3.2" fill="#c7d7f0"/><circle cx="305.5" cy="370.5" r="3.2" fill="#cad8ef"/><circle cx="294.6" cy="342.6" r="3.2" fill="#cfdaea"/><circle cx="298.3" cy="352.2" r="3.2" fill="#cdd9ec"/><circle cx="296.5" cy="354.9" r="3.2" fill="#c9d7f0"/><circle cx="297.7" cy="351.2" r="3.2" fill="#ccd9ed"/><circle cx="305.6" cy="369.7" r="3.2" fill="#cfdaea"/><circle cx="303.7" cy="370.3" r="3.2" fill="#cdd9ec"/><circle cx="297.6" cy="354.0" r="3.2" fill="#c5d6f2"/><circle cx="296.7" cy="350.4" r="3.2" fill="#c6d6f1"/><circle cx="305.5" cy="376.5" r="3.2" fill="#ccd9ed"/><circle cx="298.5" cy="354.1" r="3.2" fill="#d2dbe8"/><circle cx="299.7" cy="362.0" r="3.2" fill="#d2dbe8"/><circle cx="307.3" cy="379.4" r="3.2" fill="#c5d6f2"/><circle cx="291.7" cy="342.0" r="3.2" fill="#ccd9ed"/><circle cx="300.1" cy="358.7" r="3.2" fill="#ccd9ed"/><circle cx="301.3" cy="364.6" r="3.2" fill="#c3d5f4"/><circle cx="301.2" cy="358.3" r="3.2" fill="#ccd9ed"/><circle cx="295.2" cy="349.6" r="3.2" fill="#c9d7f0"/><circle cx="294.1" cy="350.1" r="3.2" fill="#d1dae9"/><circle cx="303.4" cy="373.4" r="3.2" fill="#cdd9ec"/><circle cx="292.6" cy="344.6" r="3.2" fill="#cbd8ee"/><circle cx="301.4" cy="370.8" r="3.2" fill="#d1dae9"/><circle cx="294.3" cy="348.8" r="3.2" fill="#d1dae9"/><circle cx="404.0" cy="237.0" r="3.2" fill="#cfdaea"/><circle cx="404.6" cy="237.7" r="3.2" fill="#c6d6f1"/><circle cx="387.9" cy="249.1" r="3.2" fill="#c5d6f2"/><circle cx="401.2" cy="240.8" r="3.2" fill="#c7d7f0"/><circle cx="399.2" cy="239.1" r="3.2" fill="#cedaeb"/><circle cx="407.2" cy="236.7" r="3.2" fill="#c6d6f1"/><circle cx="394.9" cy="243.7" r="3.2" fill="#d1dae9"/><circle cx="403.4" cy="242.2" r="3.2" fill="#ccd9ed"/><circle cx="394.9" cy="247.8" r="3.2" fill="#d2dbe8"/><circle cx="397.2" cy="248.1" r="3.2" fill="#d1dae9"/><circle cx="399.5" cy="237.0" r="3.2" fill="#c6d6f1"/><circle cx="405.4" cy="236.2" r="3.2" fill="#ccd9ed"/><circle cx="396.8" cy="249.4" r="3.2" fill="#cedaeb"/><circle cx="403.5" cy="240.7" r="3.2" fill="#cfdaea"/><circle cx="404.4" cy="240.0" r="3.2" fill="#cbd8ee"/><circle cx="393.9" cy="244.3" r="3.2" fill="#cfdaea"/><circle cx="394.9" cy="240.6" r="3.2" fill="#cedaeb"/><circle cx="404.3" cy="239.9" r="3.2" fill="#cdd9ec"/><circle cx="400.0" cy="238.6" r="3.2" fill="#cfdaea"/><circle cx="402.0" cy="237.9" r="3.2" fill="#c9d7f0"/><circle cx="398.5" cy="243.2" r="3.2" fill="#c9d7f0"/><circle cx="383.3" cy="269.5" r="3.2" fill="#cfdaea"/><circle cx="385.8" cy="254.2" r="3.2" fill="#c5d6f2"/><circle cx="387.1" cy="254.9" r="3.2" fill="#cedaeb"/><circle cx="379.0" cy="275.4" r="3.2" fill="#c9d7f0"/><circle cx="385.7" cy="268.2" r="3.2" fill="#cdd9ec"/><circle cx="383.7" cy="269.7" r="3.2" fill="#cbd8ee"/><circle cx="382.0" cy="264.0" r="3.2" fill="#ccd9ed"/><circle cx="389.2" cy="262.0" r="3.2" fill="#cfdaea"/><circle cx="394.3" cy="250.5" r="3.2" fill="#c7d7f0"/><circle cx="386.1" cy="260.6" r="3.2" fill="#cfdaea"/><circle cx="384.4" cy="272.6" r="3.2" fill="#c6d6f1"/><circle cx="385.5" cy="259.4" r="3.2" fill="#d2dbe8"/><circle cx="388.7" cy="251.4" r="3.2" fill="#cedaeb"/><circle cx="380.0" cy="267.8" r="3.2" fill="#ccd9ed"/><circle cx="382.0" cy="270.3" r="3.2" fill="#c4d5f3"/><circle cx="387.9" cy="264.1" r="3.2" fill="#c6d6f1"/><circle cx="394.4" cy="257.1" r="3.2" fill="#cbd8ee"/><circle cx="379.1" cy="275.1" r="3.2" fill="#c9d7f0"/><circle cx="381.3" cy="264.2" r="3.2" fill="#c9d7f0"/><circle cx="381.1" cy="275.3" r="3.2" fill="#c5d6f2"/><circle cx="385.7" cy="267.4" r="3.2" fill="#c6d6f1"/><circle cx="380.8" cy="269.0" r="3.2" fill="#cdd9ec"/><circle cx="381.2" cy="278.7" r="3.2" fill="#c4d5f3"/><circle cx="377.8" cy="279.0" r="3.2" fill="#cad8ef"/><circle cx="381.0" cy="272.3" r="3.2" fill="#cbd8ee"/><circle cx="389.7" cy="264.2" r="3.2" fill="#c7d7f0"/><circle cx="381.8" cy="264.2" r="3.2" fill="#cbd8ee"/><circle cx="387.2" cy="269.1" r="3.2" fill="#c4d5f3"/><circle cx="386.2" cy="253.8" r="3.2" fill="#cad8ef"/><circle cx="377.1" cy="274.9" r="3.2" fill="#d2dbe8"/><circle cx="375.7" cy="279.9" r="3.2" fill="#c5d6f2"/><circle cx="385.0" cy="262.7" r="3.2" fill="#c9d7f0"/><circle cx="393.0" cy="254.6" r="3.2" fill="#c5d6f2"/><circle cx="392.2" cy="252.3" r="3.2" fill="#c4d5f3"/><circle cx="384.1" cy="258.5" r="3.2" fill="#ccd9ed"/><circle cx="381.7" cy="266.2" r="3.2" fill="#c6d6f1"/><circle cx="368.3" cy="296.0" r="3.2" fill="#c4d5f3"/><circle cx="368.3" cy="300.0" r="3.2" fill="#c9d7f0"/><circle cx="367.7" cy="306.9" r="3.2" fill="#cfdaea"/><circle cx="370.8" cy="295.5" r="3.2" fill="#c7d7f0"/><circle cx="371.7" cy="298.3" r="3.2" fill="#c4d5f3"/><circle cx="369.0" cy="296.3" r="3.2" fill="#d2dbe8"/><circle cx="377.8" cy="280.9" r="3.2" fill="#ccd9ed"/><circle cx="372.6" cy="294.7" r="3.2" fill="#cfdaea"/><circle cx="369.3" cy="298.4" r="3.2" fill="#c7d7f0"/><circle cx="363.4" cy="315.8" r="3.2" fill="#c5d6f2"/><circle cx="368.7" cy="294.9" r="3.2" fill="#cbd8ee"/><circle cx="377.9" cy="283.6" r="3.2" fill="#d1dae9"/><circle cx="377.3" cy="284.4" r="3.2" fill="#c9d7f0"/><circle cx="369.0" cy="301.6" r="3.2" fill="#cad8ef"/><circle cx="371.9" cy="296.6" r="3.2" fill="#c4d5f3"/><circle cx="375.3" cy="288.4" r="3.2" fill="#ccd9ed"/><circle cx="362.9" cy="316.4" r="3.2" fill="#c4d5f3"/><circle cx="365.7" cy="310.9" r="3.2" fill="#c9d7f0"/><circle cx="369.2" cy="302.5" r="3.2" fill="#c7d7f0"/><circle cx="373.5" cy="290.6" r="3.2" fill="#c7d7f0"/><circle cx="364.5" cy="309.6" r="3.2" fill="#cedaeb"/><circle cx="362.0" cy="319.6" r="3.2" fill="#c5d6f2"/><circle cx="374.3" cy="289.9" r="3.2" fill="#c4d5f3"/><circle cx="370.3" cy="299.8" r="3.2" fill="#cdd9ec"/><circle cx="374.3" cy="289.9" r="3.2" fill="#c6d6f1"/><circle cx="377.0" cy="286.2" r="3.2" fill="#cfdaea"/><circle cx="363.0" cy="310.0" r="3.2" fill="#ccd9ed"/><circle cx="375.7" cy="287.0" r="3.2" fill="#c4d5f3"/><circle cx="366.3" cy="310.0" r="3.2" fill="#c7d7f0"/><circle cx="347.9" cy="350.3" r="3.2" fill="#c9d7f0"/><circle cx="352.6" cy="336.5" r="3.2" fill="#cad8ef"/><circle cx="341.7" cy="372.2" r="3.2" fill="#c6d6f1"/><circle cx="352.3" cy="341.1" r="3.2" fill="#c5d6f2"/><circle cx="346.9" cy="354.4" r="3.2" fill="#cbd8ee"/><circle cx="351.2" cy="345.9" r="3.2" fill="#c5d6f2"/><circle cx="358.1" cy="325.2" r="3.2" fill="#c7d7f0"/><circle cx="355.9" cy="327.9" r="3.2" fill="#d1dae9"/><circle cx="339.0" cy="373.0" r="3.2" fill="#cfdaea"/><circle cx="339.6" cy="372.2" r="3.2" fill="#cbd8ee"/><circle cx="350.4" cy="347.8" r="3.2" fill="#cbd8ee"/><circle cx="349.5" cy="351.3" r="3.2" fill="#cedaeb"/><circle cx="359.1" cy="323.5" r="3.2" fill="#cedaeb"/><circle cx="360.6" cy="322.9" r="3.2" fill="#cfdaea"/><circle cx="348.9" cy="345.4" r="3.2" fill="#cfdaea"/><circle cx="350.7" cy="343.8" r="3.2" fill="#c4d5f3"/><circle cx="347.0" cy="350.4" r="3.2" fill="#c3d5f4"/><circle cx="355.7" cy="335.1" r="3.2" fill="#c4d5f3"/><circle cx="342.9" cy="365.3" r="3.2" fill="#c7d7f0"/><circle cx="342.2" cy="369.2" r="3.2" fill="#cedaeb"/><circle cx="358.4" cy="322.3" r="3.2" fill="#c9d7f0"/><circle cx="345.9" cy="360.3" r="3.2" fill="#cad8ef"/><circle cx="342.5" cy="370.0" r="3.2" fill="#d2dbe8"/><circle cx="342.5" cy="366.5" r="3.2" fill="#cfdaea"/><circle cx="338.1" cy="377.2" r="3.2" fill="#cdd9ec"/><circle cx="352.6" cy="336.1" r="3.2" fill="#cad8ef"/><circle cx="345.1" cy="363.3" r="3.2" fill="#cad8ef"/><circle cx="356.0" cy="332.8" r="3.2" fill="#c6d6f1"/><circle cx="352.4" cy="336.7" r="3.2" fill="#cfdaea"/><circle cx="346.8" cy="354.0" r="3.2" fill="#c9d7f0"/><circle cx="349.2" cy="350.3" r="3.2" fill="#cad8ef"/><circle cx="350.0" cy="349.2" r="3.2" fill="#d2dbe8"/><circle cx="271.8" cy="273.7" r="3.2" fill="#b40426"/><circle cx="271.6" cy="273.3" r="3.2" fill="#b70d28"/><circle cx="272.6" cy="275.7" r="3.2" fill="#b70d28"/><circle cx="272.2" cy="276.0" r="3.2" fill="#b50927"/><circle cx="274.2" cy="276.9" r="3.2" fill="#b8122a"/><circle cx="277.4" cy="286.4" r="3.2" fill="#b40426"/><circle cx="275.6" cy="281.6" r="3.2" fill="#b70d28"/><circle cx="275.8" cy="289.4" r="3.2" fill="#b70d28"/><circle cx="276.5" cy="285.7" r="3.2" fill="#b70d28"/><circle cx="283.4" cy="297.5" r="3.2" fill="#b40426"/><circle cx="277.2" cy="286.0" r="3.2" fill="#b50927"/><circle cx="273.2" cy="281.7" r="3.2" fill="#b70d28"/><circle cx="276.4" cy="290.0" r="3.2" fill="#b70d28"/><circle cx="272.7" cy="280.8" r="3.2" fill="#b50927"/><circle cx="282.1" cy="293.4" r="3.2" fill="#b40426"/><circle cx="281.0" cy="294.6" r="3.2" fill="#b8122a"/><circle cx="278.4" cy="294.2" r="3.2" fill="#b50927"/><circle cx="284.7" cy="299.5" r="3.2" fill="#b40426"/><circle cx="277.4" cy="286.8" r="3.2" fill="#b50927"/><circle cx="282.4" cy="292.5" r="3.2" fill="#b8122a"/><circle cx="277.6" cy="287.7" r="3.2" fill="#b50927"/><circle cx="276.2" cy="284.4" r="3.2" fill="#b40426"/><circle cx="274.2" cy="285.0" r="3.2" fill="#b50927"/><circle cx="282.0" cy="292.2" r="3.2" fill="#b40426"/><circle cx="279.9" cy="290.1" r="3.2" fill="#b70d28"/><circle cx="285.1" cy="298.5" r="3.2" fill="#b70d28"/><circle cx="279.6" cy="296.4" r="3.2" fill="#b8122a"/><circle cx="296.9" cy="326.3" r="3.2" fill="#b50927"/><circle cx="293.7" cy="328.8" r="3.2" fill="#b40426"/><circle cx="283.2" cy="304.5" r="3.2" fill="#b40426"/><circle cx="300.2" cy="337.3" r="3.2" fill="#b50927"/><circle cx="285.7" cy="308.7" r="3.2" fill="#b50927"/><circle cx="293.5" cy="324.7" r="3.2" fill="#b40426"/><circle cx="285.7" cy="309.2" r="3.2" fill="#b8122a"/><circle cx="284.6" cy="301.1" r="3.2" fill="#b70d28"/><circle cx="283.6" cy="307.5" r="3.2" fill="#b50927"/><circle cx="301.2" cy="339.4" r="3.2" fill="#b40426"/><circle cx="295.2" cy="332.5" r="3.2" fill="#b8122a"/><circle cx="292.9" cy="316.7" r="3.2" fill="#b70d28"/><circle cx="298.9" cy="336.9" r="3.2" fill="#b40426"/><circle cx="286.6" cy="310.7" r="3.2" fill="#b8122a"/><circle cx="288.9" cy="319.7" r="3.2" fill="#b40426"/><circle cx="285.9" cy="310.4" r="3.2" fill="#b8122a"/><circle cx="295.1" cy="334.0" r="3.2" fill="#b70d28"/><circle cx="295.4" cy="330.4" r="3.2" fill="#b70d28"/><circle cx="293.8" cy="333.8" r="3.2" fill="#b40426"/><circle cx="296.1" cy="328.4" r="3.2" fill="#b70d28"/><circle cx="292.0" cy="320.1" r="3.2" fill="#b8122a"/><circle cx="298.7" cy="337.6" r="3.2" fill="#b8122a"/><circle cx="294.1" cy="320.1" r="3.2" fill="#b40426"/><circle cx="291.2" cy="323.8" r="3.2" fill="#b50927"/><circle cx="290.0" cy="316.0" r="3.2" fill="#b40426"/><circle cx="294.8" cy="329.2" r="3.2" fill="#b40426"/><circle cx="294.1" cy="330.5" r="3.2" fill="#b40426"/><circle cx="281.1" cy="302.0" r="3.2" fill="#b50927"/><circle cx="291.8" cy="318.0" r="3.2" fill="#b8122a"/><circle cx="283.7" cy="302.1" r="3.2" fill="#b70d28"/><circle cx="292.1" cy="322.2" r="3.2" fill="#b50927"/><circle cx="295.9" cy="337.3" r="3.2" fill="#b50927"/><circle cx="294.2" cy="325.3" r="3.2" fill="#b70d28"/><circle cx="298.7" cy="332.3" r="3.2" fill="#b40426"/><circle cx="295.6" cy="323.9" r="3.2" fill="#b40426"/><circle cx="291.6" cy="318.9" r="3.2" fill="#b40426"/><circle cx="285.9" cy="301.5" r="3.2" fill="#b70d28"/><circle cx="295.3" cy="329.8" r="3.2" fill="#b8122a"/><circle cx="286.4" cy="303.9" r="3.2" fill="#b40426"/><circle cx="298.2" cy="334.6" r="3.2" fill="#b70d28"/><circle cx="298.6" cy="331.0" r="3.2" fill="#b40426"/><circle cx="294.4" cy="332.8" r="3.2" fill="#b50927"/><circle cx="298.4" cy="332.1" r="3.2" fill="#b40426"/><circle cx="289.3" cy="320.7" r="3.2" fill="#b8122a"/><circle cx="297.9" cy="339.4" r="3.2" fill="#b8122a"/><circle cx="295.4" cy="324.0" r="3.2" fill="#b8122a"/><circle cx="281.4" cy="301.1" r="3.2" fill="#b50927"/><circle cx="287.0" cy="315.7" r="3.2" fill="#b70d28"/><circle cx="306.4" cy="367.8" r="3.2" fill="#b70d28"/><circle cx="302.1" cy="342.5" r="3.2" fill="#b50927"/><circle cx="307.2" cy="362.5" r="3.2" fill="#b50927"/><circle cx="302.9" cy="347.2" r="3.2" fill="#b50927"/><circle cx="303.8" cy="352.0" r="3.2" fill="#b70d28"/><circle cx="303.0" cy="350.6" r="3.2" fill="#b70d28"/><circle cx="311.5" cy="377.5" r="3.2" fill="#b70d28"/><circle cx="300.9" cy="353.4" r="3.2" fill="#b70d28"/><circle cx="307.4" cy="370.4" r="3.2" fill="#b70d28"/><circle cx="306.5" cy="363.6" r="3.2" fill="#b50927"/><circle cx="304.9" cy="355.5" r="3.2" fill="#b50927"/><circle cx="307.1" cy="358.5" r="3.2" fill="#b70d28"/><circle cx="307.5" cy="368.5" r="3.2" fill="#b8122a"/><circle cx="302.8" cy="357.5" r="3.2" fill="#b40426"/><circle cx="308.6" cy="375.3" r="3.2" fill="#b40426"/><circle cx="299.4" cy="343.1" r="3.2" fill="#b70d28"/><circle cx="297.8" cy="343.2" r="3.2" fill="#b40426"/><circle cx="303.0" cy="343.6" r="3.2" fill="#b70d28"/><circle cx="304.3" cy="363.6" r="3.2" fill="#b40426"/><circle cx="300.8" cy="341.0" r="3.2" fill="#b8122a"/><circle cx="306.5" cy="364.3" r="3.2" fill="#b40426"/><circle cx="298.9" cy="345.3" r="3.2" fill="#b40426"/><circle cx="307.7" cy="374.2" r="3.2" fill="#b70d28"/><circle cx="299.1" cy="342.1" r="3.2" fill="#b8122a"/><circle cx="311.7" cy="374.9" r="3.2" fill="#b40426"/><circle cx="304.8" cy="364.2" r="3.2" fill="#b8122a"/><circle cx="301.3" cy="355.0" r="3.2" fill="#b8122a"/><circle cx="307.3" cy="362.2" r="3.2" fill="#b50927"/><circle cx="305.5" cy="362.2" r="3.2" fill="#b70d28"/><circle cx="307.2" cy="363.5" r="3.2" fill="#b70d28"/><circle cx="305.8" cy="366.5" r="3.2" fill="#b40426"/><circle cx="303.7" cy="346.6" r="3.2" fill="#b70d28"/><circle cx="303.9" cy="353.9" r="3.2" fill="#b40426"/><circle cx="309.2" cy="377.9" r="3.2" fill="#b40426"/><circle cx="308.6" cy="366.9" r="3.2" fill="#b8122a"/><circle cx="301.7" cy="353.3" r="3.2" fill="#b50927"/><circle cx="299.3" cy="345.5" r="3.2" fill="#b40426"/><circle cx="300.2" cy="351.5" r="3.2" fill="#b40426"/><circle cx="304.0" cy="361.3" r="3.2" fill="#b50927"/><circle cx="307.0" cy="372.2" r="3.2" fill="#b50927"/><circle cx="300.6" cy="349.9" r="3.2" fill="#b8122a"/><circle cx="307.7" cy="369.4" r="3.2" fill="#b50927"/><circle cx="301.3" cy="344.3" r="3.2" fill="#b40426"/><circle cx="312.8" cy="386.7" r="3.2" fill="#b40426"/><circle cx="314.2" cy="386.6" r="3.2" fill="#b8122a"/><circle cx="310.7" cy="383.0" r="3.2" fill="#b40426"/><circle cx="315.0" cy="385.1" r="3.2" fill="#b50927"/><circle cx="310.1" cy="379.6" r="3.2" fill="#b70d28"/><circle cx="313.2" cy="391.4" r="3.2" fill="#b70d28"/><circle cx="313.4" cy="383.9" r="3.2" fill="#b8122a"/><circle cx="311.7" cy="384.8" r="3.2" fill="#b40426"/><circle cx="310.9" cy="382.8" r="3.2" fill="#b70d28"/><circle cx="313.8" cy="382.3" r="3.2" fill="#b50927"/><circle cx="314.8" cy="386.3" r="3.2" fill="#b50927"/><circle cx="311.3" cy="385.9" r="3.2" fill="#b8122a"/><circle cx="313.7" cy="390.7" r="3.2" fill="#b40426"/><circle cx="310.5" cy="383.0" r="3.2" fill="#b50927"/><circle cx="311.7" cy="382.5" r="3.2" fill="#b50927"/><circle cx="312.3" cy="389.1" r="3.2" fill="#b40426"/><circle cx="372.3" cy="280.4" r="3.2" fill="#b70d28"/><circle cx="369.6" cy="283.9" r="3.2" fill="#b40426"/><circle cx="372.4" cy="279.4" r="3.2" fill="#b70d28"/><circle cx="370.0" cy="287.4" r="3.2" fill="#b70d28"/><circle cx="372.4" cy="280.1" r="3.2" fill="#b70d28"/><circle cx="368.8" cy="286.9" r="3.2" fill="#b50927"/><circle cx="369.9" cy="286.6" r="3.2" fill="#b40426"/><circle cx="369.6" cy="285.7" r="3.2" fill="#b70d28"/><circle cx="365.3" cy="298.7" r="3.2" fill="#b40426"/><circle cx="364.6" cy="295.2" r="3.2" fill="#b40426"/><circle cx="366.3" cy="292.9" r="3.2" fill="#b8122a"/><circle cx="363.8" cy="295.4" r="3.2" fill="#b8122a"/><circle cx="365.3" cy="297.5" r="3.2" fill="#b70d28"/><circle cx="363.1" cy="297.2" r="3.2" fill="#b8122a"/><circle cx="366.0" cy="297.7" r="3.2" fill="#b40426"/><circle cx="365.7" cy="291.3" r="3.2" fill="#b70d28"/><circle cx="364.6" cy="295.5" r="3.2" fill="#b50927"/><circle cx="363.2" cy="294.8" r="3.2" fill="#b70d28"/><circle cx="366.1" cy="296.4" r="3.2" fill="#b8122a"/><circle cx="355.2" cy="319.4" r="3.2" fill="#b50927"/><circle cx="359.4" cy="305.4" r="3.2" fill="#b40426"/><circle cx="363.8" cy="304.2" r="3.2" fill="#b40426"/><circle cx="357.3" cy="310.6" r="3.2" fill="#b40426"/><circle cx="354.0" cy="316.9" r="3.2" fill="#b70d28"/><circle cx="354.1" cy="316.4" r="3.2" fill="#b70d28"/><circle cx="361.1" cy="302.6" r="3.2" fill="#b50927"/><circle cx="360.4" cy="308.5" r="3.2" fill="#b40426"/><circle cx="355.2" cy="319.5" r="3.2" fill="#b50927"/><circle cx="353.7" cy="319.3" r="3.2" fill="#b40426"/><circle cx="361.3" cy="305.5" r="3.2" fill="#b70d28"/><circle cx="363.3" cy="304.6" r="3.2" fill="#b40426"/><circle cx="361.9" cy="304.0" r="3.2" fill="#b8122a"/><circle cx="352.2" cy="318.2" r="3.2" fill="#b70d28"/><circle cx="362.8" cy="304.0" r="3.2" fill="#b8122a"/><circle cx="358.9" cy="306.6" r="3.2" fill="#b70d28"/><circle cx="356.4" cy="308.8" r="3.2" fill="#b50927"/><circle cx="359.5" cy="311.6" r="3.2" fill="#b70d28"/><circle cx="361.2" cy="306.7" r="3.2" fill="#b50927"/><circle cx="360.7" cy="306.0" r="3.2" fill="#b50927"/><circle cx="362.5" cy="300.6" r="3.2" fill="#b40426"/><circle cx="359.5" cy="309.1" r="3.2" fill="#b40426"/><circle cx="364.0" cy="304.3" r="3.2" fill="#b50927"/><circle cx="360.0" cy="309.0" r="3.2" fill="#b70d28"/><circle cx="359.6" cy="306.7" r="3.2" fill="#b50927"/><circle cx="357.4" cy="312.0" r="3.2" fill="#b40426"/><circle cx="338.3" cy="356.8" r="3.2" fill="#b70d28"/><circle cx="337.2" cy="360.0" r="3.2" fill="#b70d28"/><circle cx="346.2" cy="334.1" r="3.2" fill="#b50927"/><circle cx="347.9" cy="327.3" r="3.2" fill="#b70d28"/><circle cx="346.5" cy="332.2" r="3.2" fill="#b70d28"/><circle cx="345.3" cy="346.2" r="3.2" fill="#b70d28"/><circle cx="343.7" cy="338.7" r="3.2" fill="#b70d28"/><circle cx="351.9" cy="332.1" r="3.2" fill="#b50927"/><circle cx="343.8" cy="338.1" r="3.2" fill="#b40426"/><circle cx="338.4" cy="356.9" r="3.2" fill="#b40426"/><circle cx="345.9" cy="350.1" r="3.2" fill="#b70d28"/><circle cx="343.4" cy="341.6" r="3.2" fill="#b40426"/><circle cx="343.4" cy="354.8" r="3.2" fill="#b50927"/><circle cx="343.1" cy="353.9" r="3.2" fill="#b70d28"/><circle cx="341.6" cy="354.4" r="3.2" fill="#b70d28"/><circle cx="350.4" cy="326.8" r="3.2" fill="#b8122a"/><circle cx="350.0" cy="329.7" r="3.2" fill="#b70d28"/><circle cx="349.0" cy="341.1" r="3.2" fill="#b40426"/><circle cx="344.9" cy="348.5" r="3.2" fill="#b40426"/><circle cx="351.7" cy="324.6" r="3.2" fill="#b70d28"/><circle cx="352.1" cy="320.6" r="3.2" fill="#b50927"/><circle cx="342.0" cy="345.2" r="3.2" fill="#b8122a"/><circle cx="349.4" cy="325.9" r="3.2" fill="#b8122a"/><circle cx="350.4" cy="338.1" r="3.2" fill="#b8122a"/><circle cx="349.2" cy="322.2" r="3.2" fill="#b40426"/><circle cx="343.0" cy="352.2" r="3.2" fill="#b40426"/><circle cx="350.7" cy="320.7" r="3.2" fill="#b40426"/><circle cx="341.2" cy="353.7" r="3.2" fill="#b50927"/><circle cx="339.0" cy="353.0" r="3.2" fill="#b70d28"/><circle cx="349.5" cy="331.8" r="3.2" fill="#b40426"/><circle cx="353.5" cy="322.8" r="3.2" fill="#b50927"/><circle cx="339.1" cy="356.8" r="3.2" fill="#b40426"/><circle cx="343.3" cy="339.9" r="3.2" fill="#b40426"/><circle cx="348.1" cy="343.9" r="3.2" fill="#b70d28"/><circle cx="347.5" cy="339.7" r="3.2" fill="#b8122a"/><circle cx="349.1" cy="324.8" r="3.2" fill="#b70d28"/><circle cx="351.4" cy="328.0" r="3.2" fill="#b8122a"/><circle cx="346.6" cy="337.3" r="3.2" fill="#b50927"/><circle cx="344.2" cy="347.5" r="3.2" fill="#b50927"/><circle cx="340.0" cy="357.7" r="3.2" fill="#b8122a"/><circle cx="347.6" cy="336.1" r="3.2" fill="#b40426"/><circle cx="351.4" cy="335.1" r="3.2" fill="#b50927"/><circle cx="338.0" cy="357.8" r="3.2" fill="#b40426"/><circle cx="346.9" cy="330.5" r="3.2" fill="#b50927"/><circle cx="344.0" cy="341.9" r="3.2" fill="#b70d28"/><circle cx="346.6" cy="333.1" r="3.2" fill="#b70d28"/><circle cx="351.0" cy="332.3" r="3.2" fill="#b40426"/><circle cx="339.7" cy="353.4" r="3.2" fill="#b40426"/><circle cx="351.7" cy="326.4" r="3.2" fill="#b8122a"/><circle cx="342.4" cy="359.6" r="3.2" fill="#b70d28"/><circle cx="349.3" cy="336.3" r="3.2" fill="#b40426"/><circle cx="348.0" cy="345.0" r="3.2" fill="#b40426"/><circle cx="340.2" cy="359.9" r="3.2" fill="#b50927"/><circle cx="348.7" cy="342.9" r="3.2" fill="#b70d28"/><circle cx="340.9" cy="360.1" r="3.2" fill="#b8122a"/><circle cx="335.6" cy="371.2" r="3.2" fill="#b50927"/><circle cx="336.1" cy="363.4" r="3.2" fill="#b50927"/><circle cx="334.3" cy="374.0" r="3.2" fill="#b70d28"/><circle cx="335.2" cy="371.9" r="3.2" fill="#b50927"/><circle cx="336.1" cy="373.8" r="3.2" fill="#b70d28"/><circle cx="334.3" cy="372.0" r="3.2" fill="#b40426"/><circle cx="337.7" cy="362.7" r="3.2" fill="#b50927"/><circle cx="335.6" cy="376.4" r="3.2" fill="#b50927"/><circle cx="336.0" cy="369.4" r="3.2" fill="#b70d28"/><circle cx="336.4" cy="371.7" r="3.2" fill="#b70d28"/><circle cx="335.2" cy="367.6" r="3.2" fill="#b8122a"/><circle cx="338.4" cy="364.9" r="3.2" fill="#b50927"/><circle cx="335.0" cy="365.3" r="3.2" fill="#b70d28"/><circle cx="338.9" cy="368.7" r="3.2" fill="#b70d28"/><circle cx="337.3" cy="369.8" r="3.2" fill="#b8122a"/><circle cx="334.2" cy="368.7" r="3.2" fill="#b40426"/><circle cx="340.8" cy="361.7" r="3.2" fill="#b40426"/><circle cx="340.3" cy="361.1" r="3.2" fill="#b40426"/><circle cx="339.4" cy="364.2" r="3.2" fill="#b70d28"/><circle cx="335.1" cy="375.0" r="3.2" fill="#b8122a"/><circle cx="337.3" cy="371.7" r="3.2" fill="#b8122a"/><circle cx="328.9" cy="388.8" r="3.2" fill="#b40426"/><circle cx="332.7" cy="379.1" r="3.2" fill="#b50927"/><circle cx="327.9" cy="390.8" r="3.2" fill="#b50927"/><circle cx="329.3" cy="385.6" r="3.2" fill="#b70d28"/><circle cx="333.6" cy="383.8" r="3.2" fill="#b40426"/><circle cx="329.5" cy="384.4" r="3.2" fill="#b70d28"/><circle cx="331.2" cy="380.4" r="3.2" fill="#b50927"/><circle cx="332.4" cy="389.0" r="3.2" fill="#b70d28"/><circle cx="330.3" cy="386.1" r="3.2" fill="#b70d28"/><circle cx="332.1" cy="379.7" r="3.2" fill="#b70d28"/><circle cx="331.9" cy="387.1" r="3.2" fill="#b40426"/><circle cx="329.6" cy="383.2" r="3.2" fill="#b40426"/><circle cx="332.1" cy="387.8" r="3.2" fill="#b50927"/><circle cx="331.2" cy="385.4" r="3.2" fill="#b70d28"/><circle cx="333.1" cy="378.6" r="3.2" fill="#b8122a"/><circle cx="324.2" cy="394.7" r="3.2" fill="#b70d28"/><circle cx="317.9" cy="391.7" r="3.2" fill="#b70d28"/><circle cx="325.2" cy="394.1" r="3.2" fill="#b70d28"/><circle cx="323.9" cy="394.8" r="3.2" fill="#b70d28"/><circle cx="324.6" cy="390.9" r="3.2" fill="#b70d28"/><circle cx="324.5" cy="390.7" r="3.2" fill="#b70d28"/><circle cx="324.0" cy="388.0" r="3.2" fill="#b70d28"/><circle cx="325.9" cy="388.8" r="3.2" fill="#b70d28"/><circle cx="317.5" cy="390.3" r="3.2" fill="#b70d28"/><circle cx="321.2" cy="391.6" r="3.2" fill="#b70d28"/><circle cx="324.2" cy="391.4" r="3.2" fill="#b70d28"/><circle cx="325.9" cy="391.8" r="3.2" fill="#b70d28"/><circle cx="319.4" cy="394.3" r="3.2" fill="#b70d28"/><circle cx="318.5" cy="392.2" r="3.2" fill="#b70d28"/>
<path d="M85.66,48.12 L87.29,48.76 L87.94,49.41 L88.60,50.06 L89.26,50.70 L89.91,51.35 L90.57,52.00 L91.23,52.65 L91.88,53.30 L92.54,53.96 L93.19,54.61 L93.85,55.26 L94.51,55.92 L95.16,56.57 L95.82,57.23 L96.48,57.88 L97.13,58.54 L97.79,59.20 L98.45,59.86 L99.10,60.52 L99.76,61.18 L100.42,61.84 L101.07,62.51 L101.73,63.17 L102.38,63.83 L103.04,64.50 L103.70,65.17 L104.35,65.83 L105.01,66.50 L105.67,67.17 L106.32,67.84 L106.98,68.51 L107.64,69.18 L108.29,69.85 L108.95,70.53 L109.61,71.20 L110.26,71.88 L110.92,72.55 L111.57,73.23 L112.23,73.91 L112.89,74.59 L113.54,75.27 L114.20,75.95 L114.86,76.63 L115.51,77.31 L116.17,78.00 L116.83,78.68 L117.48,79.37 L118.14,80.05 L118.80,80.74 L119.45,81.43 L120.11,82.12 L120.77,82.81 L121.42,83.50 L122.08,84.20 L122.73,84.89 L123.39,85.58 L124.05,86.28 L124.70,86.98 L125.36,87.67 L126.02,88.37 L126.67,89.07 L127.33,89.77 L127.99,90.48 L128.64,91.18 L129.30,91.88 L129.96,92.59 L130.61,93.29 L131.27,94.00 L131.92,94.71 L132.58,95.42 L133.24,96.13 L133.89,96.84 L134.55,97.55 L135.21,98.27 L135.86,98.98 L136.52,99.70 L137.18,100.41 L137.83,101.13 L138.49,101.85 L139.15,102.57 L139.80,103.29 L140.46,104.02 L141.11,104.74 L141.77,105.46 L142.43,106.19 L143.08,106.92 L143.74,107.65 L144.40,108.38 L145.05,109.11 L145.71,109.84 L146.37,110.57 L147.02,111.31 L147.68,112.04 L148.34,112.78 L148.99,113.52 L149.65,114.26 L150.31,115.00 L150.96,115.74 L151.62,116.48 L152.27,117.23 L152.93,117.97 L153.59,118.72 L154.24,119.47 L154.90,120.22 L155.56,120.97 L156.21,121.72 L156.87,122.48 L157.53,123.23 L158.18,123.99 L158.84,124.74 L159.50,125.50 L160.15,126.26 L160.81,127.03 L161.46,127.79 L162.12,128.55 L162.78,129.32 L163.43,130.09 L164.09,130.85 L164.75,131.62 L165.40,132.40 L166.06,133.17 L166.72,133.94 L167.37,134.72 L168.03,135.50 L168.69,136.27 L169.34,137.05 L170.00,137.84 L170.65,138.62 L171.31,139.40 L171.97,140.19 L172.62,140.98 L173.28,141.77 L173.94,142.56 L174.59,143.35 L175.25,144.14 L175.91,144.94 L176.56,145.74 L177.22,146.54 L177.88,147.34 L178.53,148.14 L179.19,148.94 L179.85,149.75 L180.50,150.55 L181.16,151.36 L181.81,152.17 L182.47,152.98 L183.13,153.80 L183.78,154.61 L184.44,155.43 L185.10,156.25 L185.75,157.07 L186.41,157.89 L187.07,158.71 L187.72,159.54 L188.38,160.37 L189.04,161.20 L189.69,162.03 L190.35,162.86 L191.00,163.69 L191.66,164.53 L192.32,165.37 L192.97,166.21 L193.63,167.05 L194.29,167.90 L194.94,168.74 L195.60,169.59 L196.26,170.44 L196.91,171.29 L197.57,172.15 L198.23,173.00 L198.88,173.86 L199.54,174.72 L200.19,175.58 L200.85,176.45 L201.51,177.31 L202.16,178.18 L202.82,179.05 L203.48,179.92 L204.13,180.80 L204.79,181.68 L205.45,182.56 L206.10,183.44 L206.76,184.32 L207.42,185.21 L208.07,186.09 L208.73,186.98 L209.39,187.88 L210.04,188.77 L210.70,189.67 L211.35,190.57 L212.01,191.47 L212.67,192.37 L213.32,193.28 L213.98,194.19 L214.64,195.10 L215.29,196.02 L215.95,196.93 L216.61,197.85 L217.26,198.77 L217.92,199.70 L218.58,200.63 L219.23,201.56 L219.89,202.49 L220.54,203.42 L221.20,204.36 L221.86,205.30 L222.51,206.24 L223.17,207.19 L223.83,208.14 L224.48,209.09 L225.14,210.04 L225.80,211.00 L226.45,211.96 L227.11,212.93 L227.77,213.89 L228.42,214.86 L229.08,215.83 L229.73,216.81 L230.39,217.79 L231.05,218.77 L231.70,219.75 L232.36,220.74 L233.02,221.73 L233.67,222.73 L234.33,223.72 L234.99,224.73 L235.64,225.73 L236.30,226.74 L236.96,227.75 L237.61,228.77 L238.27,229.78 L238.93,230.81 L239.58,231.83 L240.24,232.86 L240.89,233.90 L241.55,234.93 L242.21,235.97 L242.86,237.02 L243.52,238.07 L244.18,239.12 L244.83,240.18 L245.49,241.24 L246.15,242.30 L246.80,243.37 L247.46,244.44 L248.12,245.52 L248.77,246.60 L249.43,247.69 L250.08,248.78 L250.74,249.88 L251.40,250.98 L252.05,252.08 L252.71,253.19 L253.37,254.31 L254.02,255.42 L254.68,256.55 L255.34,257.68 L255.99,258.81 L256.65,259.95 L257.31,261.10 L257.96,262.25 L258.62,263.40 L259.27,264.56 L259.93,265.73 L260.59,266.90 L261.24,268.08 L261.90,269.26 L262.56,270.45 L263.21,271.65 L263.87,272.85 L264.53,274.06 L265.18,275.28 L265.84,276.50 L266.50,277.73 L267.15,278.96 L267.81,280.21 L268.47,281.45 L269.12,282.71 L269.78,283.98 L270.43,285.25 L271.09,286.53 L271.75,287.81 L272.40,289.11 L273.06,290.41 L273.72,291.72 L274.37,293.04 L275.03,294.37 L275.69,295.71 L276.34,297.05 L277.00,298.41 L277.66,299.77 L278.31,301.15 L278.97,302.53 L279.62,303.93 L280.28,305.33 L280.94,306.75 L281.59,308.17 L282.25,309.61 L282.91,311.06 L283.56,312.52 L284.22,313.99 L284.88,315.47 L285.53,316.97 L286.19,318.47 L286.85,319.99 L287.50,321.53 L288.16,323.07 L288.81,324.63 L289.47,326.21 L290.13,327.80 L290.78,329.40 L291.44,331.01 L292.10,332.64 L292.75,334.28 L293.41,335.94 L294.07,337.62 L294.72,339.30 L295.38,341.00 L296.04,342.72 L296.69,344.45 L297.35,346.19 L298.01,347.95 L298.66,349.72 L299.32,351.50 L299.97,353.29 L300.63,355.10 L301.29,356.91 L301.94,358.73 L302.60,360.56 L303.26,362.39 L303.91,364.23 L304.57,366.07 L305.23,367.90 L305.88,369.74 L306.54,371.56 L307.20,373.38 L307.85,375.18 L308.51,376.97 L309.16,378.73 L309.82,380.47 L310.48,382.18 L311.13,383.85 L311.79,385.47 L312.45,387.06 L313.10,388.58 L313.76,390.05 L314.42,391.46 L315.07,392.79 L315.73,394.05 L316.39,395.22 L317.04,396.30 L317.70,397.28 L318.35,398.16 L319.01,398.94 L319.67,399.61 L320.32,400.16 L320.98,400.59 L321.64,400.90 L322.29,401.08 L322.95,401.15 L323.61,401.08 L324.26,400.90 L324.92,400.59 L325.58,400.16 L326.23,399.61 L326.89,398.94 L327.55,398.16 L328.20,397.28 L328.86,396.30 L329.51,395.22 L330.17,394.05 L330.83,392.79 L331.48,391.46 L332.14,390.05 L332.80,388.58 L333.45,387.06 L334.11,385.47 L334.77,383.85 L335.42,382.18 L336.08,380.47 L336.74,378.73 L337.39,376.97 L338.05,375.18 L338.70,373.38 L339.36,371.56 L340.02,369.74 L340.67,367.90 L341.33,366.07 L341.99,364.23 L342.64,362.39 L343.30,360.56 L343.96,358.73 L344.61,356.91 L345.27,355.10 L345.93,353.29 L346.58,351.50 L347.24,349.72 L347.89,347.95 L348.55,346.19 L349.21,344.45 L349.86,342.72 L350.52,341.00 L351.18,339.30 L351.83,337.62 L352.49,335.94 L353.15,334.28 L353.80,332.64 L354.46,331.01 L355.12,329.40 L355.77,327.80 L356.43,326.21 L357.09,324.63 L357.74,323.07 L358.40,321.53 L359.05,319.99 L359.71,318.47 L360.37,316.97 L361.02,315.47 L361.68,313.99 L362.34,312.52 L362.99,311.06 L363.65,309.61 L364.31,308.17 L364.96,306.75 L365.62,305.33 L366.28,303.93 L366.93,302.53 L367.59,301.15 L368.24,299.77 L368.90,298.41 L369.56,297.05 L370.21,295.71 L370.87,294.37 L371.53,293.04 L372.18,291.72 L372.84,290.41 L373.50,289.11 L374.15,287.81 L374.81,286.53 L375.47,285.25 L376.12,283.98 L376.78,282.71 L377.43,281.45 L378.09,280.21 L378.75,278.96 L379.40,277.73 L380.06,276.50 L380.72,275.28 L381.37,274.06 L382.03,272.85 L382.69,271.65 L383.34,270.45 L384.00,269.26 L384.66,268.08 L385.31,266.90 L385.97,265.73 L386.63,264.56 L387.28,263.40 L387.94,262.25 L388.59,261.10 L389.25,259.95 L389.91,258.81 L390.56,257.68 L391.22,256.55 L391.88,255.42 L392.53,254.31 L393.19,253.19 L393.85,252.08 L394.50,250.98 L395.16,249.88 L395.82,248.78 L396.47,247.69 L397.13,246.60 L397.78,245.52 L398.44,244.44 L399.10,243.37 L399.75,242.30 L400.41,241.24 L401.07,240.18 L401.72,239.12 L402.38,238.07 L403.04,237.02 L403.69,235.97 L404.35,234.93 L405.01,233.90 L405.66,232.86 L406.32,231.83 L406.97,230.81 L407.63,229.78 L408.29,228.77 L408.94,227.75 L409.60,226.74 L410.26,225.73 L410.91,224.73 L411.57,223.72 L412.23,222.73 L412.88,221.73 L413.54,220.74 L414.20,219.75 L414.85,218.77 L415.51,217.79 L416.17,216.81 L416.82,215.83 L417.48,214.86 L418.13,213.89 L418.79,212.93 L419.45,211.96 L420.10,211.00 L420.76,210.04 L421.42,209.09 L422.07,208.14 L422.73,207.19 L423.39,206.24 L424.04,205.30 L424.70,204.36 L425.36,203.42 L426.01,202.49 L426.67,201.56 L427.32,200.63 L427.98,199.70 L428.64,198.77 L429.29,197.85 L429.95,196.93 L430.61,196.02 L431.26,195.10 L431.92,194.19 L432.58,193.28 L433.23,192.37 L433.89,191.47 L434.55,190.57 L435.20,189.67 L435.86,188.77 L436.51,187.88 L437.17,186.98 L437.83,186.09 L438.48,185.21 L439.14,184.32 L439.80,183.44 L440.45,182.56 L441.11,181.68 L441.77,180.80 L442.42,179.92 L443.08,179.05 L443.74,178.18 L444.39,177.31 L445.05,176.45 L445.71,175.58 L446.36,174.72 L447.02,173.86 L447.67,173.00 L448.33,172.15 L448.99,171.29 L449.64,170.44 L450.30,169.59 L450.96,168.74 L451.61,167.90 L452.27,167.05 L452.93,166.21 L453.58,165.37 L454.24,164.53 L454.90,163.69 L455.55,162.86 L456.21,162.03 L456.86,161.20 L457.52,160.37 L458.18,159.54 L458.83,158.71 L459.49,157.89 L460.15,157.07 L460.80,156.25 L461.46,155.43 L462.12,154.61 L462.77,153.80 L463.43,152.98 L464.09,152.17 L464.74,151.36 L465.40,150.55 L466.05,149.75 L466.71,148.94 L467.37,148.14 L468.02,147.34 L468.68,146.54 L469.34,145.74 L469.99,144.94 L470.65,144.14 L471.31,143.35 L471.96,142.56 L472.62,141.77 L473.28,140.98 L473.93,140.19 L474.59,139.40 L475.25,138.62 L475.90,137.84 L476.56,137.05 L477.21,136.27 L477.87,135.50 L478.53,134.72 L479.18,133.94 L479.84,133.17 L480.50,132.40 L481.15,131.62 L481.81,130.85 L482.47,130.09 L483.12,129.32 L483.78,128.55 L484.44,127.79 L485.09,127.03 L485.75,126.26 L486.40,125.50 L487.06,124.74 L487.72,123.99 L488.37,123.23 L489.03,122.48 L489.69,121.72 L490.34,120.97 L491.00,120.22 L491.66,119.47 L492.31,118.72 L492.97,117.97 L493.63,117.23 L494.28,116.48 L494.94,115.74 L495.59,115.00 L496.25,114.26 L496.91,113.52 L497.56,112.78 L498.22,112.04 L498.88,111.31 L499.53,110.57 L500.19,109.84 L500.85,109.11 L501.50,108.38 L502.16,107.65 L502.82,106.92 L503.47,106.19 L504.13,105.46 L504.79,104.74 L505.44,104.02 L506.10,103.29 L506.75,102.57 L507.41,101.85 L508.07,101.13 L508.72,100.41 L509.38,99.70 L510.04,98.98 L510.69,98.27 L511.35,97.55 L512.01,96.84 L512.66,96.13 L513.32,95.42 L513.98,94.71 L514.63,94.00 L515.29,93.29 L515.94,92.59 L516.60,91.88 L517.26,91.18 L517.91,90.48 L518.57,89.77 L519.23,89.07 L519.88,88.37 L520.54,87.67 L521.20,86.98 L521.85,86.28 L522.51,85.58 L523.17,84.89 L523.82,84.20 L524.48,83.50 L525.13,82.81 L525.79,82.12 L526.45,81.43 L527.10,80.74 L527.76,80.05 L528.42,79.37 L529.07,78.68 L529.73,78.00 L530.39,77.31 L531.04,76.63 L531.70,75.95 L532.36,75.27 L533.01,74.59 L533.67,73.91 L534.33,73.23 L534.98,72.55 L535.64,71.88 L536.29,71.20 L536.95,70.53 L537.61,69.85 L538.26,69.18 L538.92,68.51 L539.58,67.84 L540.23,67.17 L540.89,66.50 L541.55,65.83 L542.20,65.17 L542.86,64.50 L543.52,63.83 L544.17,63.17 L544.83,62.51 L545.48,61.84 L546.14,61.18 L546.80,60.52 L547.45,59.86 L548.11,59.20 L548.77,58.54 L549.42,57.88 L550.08,57.23 L550.74,56.57 L551.39,55.92 L552.05,55.26 L552.71,54.61 L553.36,53.96 L554.02,53.30 L554.67,52.65 L555.33,52.00 L555.99,51.35 L556.64,50.70 L557.30,50.06 L557.96,49.41 L558.61,48.76 L559.27,48.12" fill="none" stroke="#1f77b4" stroke-width="3" stroke-dasharray="11.05 4.78"/>
</g>
<rect x="85.66" y="19.30" width="472.64" height="399.40" fill="none" stroke="#000" stroke-width="1.25"/>
<rect x="587.70" y="19.30" width="19.90" height="399.40" fill="url(#cw)" stroke="#000" stroke-width="1.25"/>
<g clip-path="url(#cb)">
<polygon points="85.66,675.5 313.2,565.2 313.2,574.2 85.66,716.8" fill="#e3edf6"/>
<circle cx="89.3" cy="680.1" r="5.4" fill="none" stroke="#000" stroke-width="1.6"/><circle cx="89.3" cy="684.8" r="5.4" fill="none" stroke="#000" stroke-width="1.6"/><circle cx="89.3" cy="693.3" r="5.4" fill="none" stroke="#000" stroke-width="1.6"/><circle cx="89.3" cy="697.5" r="5.4" fill="none" stroke="#000" stroke-width="1.6"/><circle cx="89.3" cy="701.2" r="5.4" fill="none" stroke="#000" stroke-width="1.6"/><circle cx="87.9" cy="724.9" r="5.4" fill="none" stroke="#000" stroke-width="1.6"/><circle cx="100.0" cy="691.9" r="5.4" fill="none" stroke="#000" stroke-width="1.6"/><circle cx="103.7" cy="690.0" r="5.4" fill="none" stroke="#000" stroke-width="1.6"/><circle cx="105.6" cy="670.3" r="5.4" fill="none" stroke="#000" stroke-width="1.6"/><circle cx="106.0" cy="668.5" r="5.4" fill="none" stroke="#000" stroke-width="1.6"/><circle cx="114.0" cy="674.0" r="5.4" fill="none" stroke="#000" stroke-width="1.6"/><circle cx="114.0" cy="691.9" r="5.4" fill="none" stroke="#000" stroke-width="1.6"/><circle cx="169.2" cy="635.9" r="5.4" fill="none" stroke="#000" stroke-width="1.6"/><circle cx="169.2" cy="637.6" r="5.4" fill="none" stroke="#000" stroke-width="1.6"/><circle cx="169.2" cy="642.0" r="5.4" fill="none" stroke="#000" stroke-width="1.6"/><circle cx="169.2" cy="645.5" r="5.4" fill="none" stroke="#000" stroke-width="1.6"/><circle cx="193.7" cy="633.3" r="5.4" fill="none" stroke="#000" stroke-width="1.6"/><circle cx="193.7" cy="637.6" r="5.4" fill="none" stroke="#000" stroke-width="1.6"/><circle cx="193.7" cy="645.5" r="5.4" fill="none" stroke="#000" stroke-width="1.6"/><circle cx="193.7" cy="649.9" r="5.4" fill="none" stroke="#000" stroke-width="1.6"/><circle cx="211.7" cy="620.5" r="5.4" fill="none" stroke="#000" stroke-width="1.6"/><circle cx="211.7" cy="630.7" r="5.4" fill="none" stroke="#000" stroke-width="1.6"/><circle cx="211.7" cy="632.8" r="5.4" fill="none" stroke="#000" stroke-width="1.6"/><circle cx="313.2" cy="569.4" r="5.4" fill="none" stroke="#000" stroke-width="1.6"/><circle cx="313.2" cy="571.5" r="5.4" fill="none" stroke="#000" stroke-width="1.6"/><circle cx="313.2" cy="575.5" r="5.4" fill="none" stroke="#000" stroke-width="1.6"/>
<path d="M85.66,695.8 L319.45,568.6" stroke="#1f77b4" stroke-width="3" stroke-dasharray="11.1 4.8" fill="none"/>
</g>
<rect x="85.66" y="535.75" width="233.79" height="199.45" fill="none" stroke="#000" stroke-width="1.25"/>
<g clip-path="url(#cc)">
<path d="M453.35,559.60V652.30" stroke="#0000ff" stroke-width="3" fill="none"/>
<path d="M444.20,559.60h18.3M444.20,652.30h18.3" stroke="#0000ff" stroke-width="2" fill="none"/>
<rect x="447.00" y="599.95" width="12.5" height="12.5" fill="#0000ff"/>
<path d="M506.70,574.50V661.40" stroke="#0000ff" stroke-width="3" fill="none"/>
<path d="M497.55,574.50h18.3M497.55,661.40h18.3" stroke="#0000ff" stroke-width="2" fill="none"/>
<rect x="500.35" y="611.95" width="12.5" height="12.5" fill="#0000ff"/>
<path d="M559.33,561.00V652.80" stroke="#0000ff" stroke-width="3" fill="none"/>
<path d="M550.18,561.00h18.3M550.18,652.80h18.3" stroke="#0000ff" stroke-width="2" fill="none"/>
<rect x="552.98" y="600.35" width="12.5" height="12.5" fill="#0000ff"/>
<path d="M612.40,544.40V643.40" stroke="#0000ff" stroke-width="3" fill="none"/>
<path d="M603.25,544.40h18.3M603.25,643.40h18.3" stroke="#0000ff" stroke-width="2" fill="none"/>
<rect x="606.05" y="587.55" width="12.5" height="12.5" fill="#0000ff"/>
<path d="M665.60,681.70V725.50" stroke="#0000ff" stroke-width="3" fill="none"/>
<path d="M656.45,681.70h18.3M656.45,725.50h18.3" stroke="#0000ff" stroke-width="2" fill="none"/>
<rect x="659.25" y="697.55" width="12.5" height="12.5" fill="#0000ff"/>
<path d="M453.35,647.8V663.9" stroke="#ff7f0e" stroke-width="3" fill="none"/>
<path d="M444.20,647.8h18.3M444.20,663.9h18.3" stroke="#ff7f0e" stroke-width="2" fill="none"/>
<rect x="447.00" y="650.0" width="12.5" height="12.5" fill="#ff7f0e"/>
</g>
<rect x="442.70" y="535.75" width="233.30" height="199.45" fill="none" stroke="#000" stroke-width="1.25"/>
<path d="M85.66,389.30h5 M85.66,315.30h5 M85.66,241.30h5 M85.66,167.30h5 M85.66,93.30h5 M85.66,19.30h5 M111.92,418.70v-5 M216.95,418.70v-5 M321.98,418.70v-5 M427.01,418.70v-5 M532.04,418.70v-5 M607.60,374.90h-5 M607.60,259.10h-5 M607.60,143.30h-5 M607.60,27.50h-5 M85.66,699.75h5 M85.66,631.68h5 M85.66,578.89h5 M85.66,535.75h5 M201.00,735.20v-5 M310.40,735.20v-5 M442.70,716.70h5 M442.70,641.40h5 M442.70,566.10h5 M453.35,735.20v-5 M524.10,735.20v-5 M594.85,735.20v-5 M665.60,735.20v-5" stroke="#000" stroke-width="1.2" fill="none"/>
<g fill="#000" stroke="#fff" stroke-width="1.8">
<text transform="matrix(0.317 0 0 0.309 24.583 19.9)" stroke-width="1.02" font-weight="bold">A</text>
<text transform="matrix(0.309 0 0 0.296 180.055 59.009)" stroke-width="1.06" font-style="italic">V</text>
<text transform="matrix(0.195 0 0 0.174 196.284 63.347)" stroke-width="0.54" >g</text>
<path stroke="none" d="M215.70,49.25h18.30v1.2h-18.30ZM215.70,54.35h18.30v1.2h-18.30Z"/>
<text transform="matrix(0.267 0 0 0.3 263.632 59.5)" stroke-width="1.13" >660</text>
<text transform="matrix(0.308 0 0 0.304 312.383 59.744)" stroke-width="1.05" >mV,</text>
<text transform="matrix(0.319 0 0 0.302 376.881 59.6)" stroke-width="1.03" font-style="italic">B</text>
<path stroke="none" d="M407.30,49.25h18.10v1.2h-18.10ZM407.30,54.35h18.10v1.2h-18.10Z"/>
<text transform="matrix(0.263 0 0 0.297 433.95 59.6)" stroke-width="1.14" >2</text>
<text transform="matrix(0.296 0 0 0.289 456.107 59.6)" stroke-width="1.09" >T</text>
<text transform="matrix(0.308 0 0 0.308 207.177 477.592)" stroke-width="1.04" font-style="italic">e</text>
<path stroke="none" d="M228.90,455.30Q216.70,470.15 228.90,485.00L229.80,484.40Q218.77,470.15 229.80,455.90Z"/>
<text transform="matrix(0.342 0 0 0.315 229.288 477.07)" stroke-width="0.97" font-style="italic">V</text>
<text transform="matrix(0.208 0 0 0.203 246.967 482.197)" stroke-width="0.49" >sd</text>
<text transform="matrix(0.32 0 0 0.312 304.402 477.076)" stroke-width="1.01" font-style="italic">V</text>
<text transform="matrix(0.202 0 0 0.221 321.79 482.358)" stroke-width="0.47" >0</text>
<path stroke="none" d="M334.70,455.10Q346.70,470.05 334.70,485.00L333.80,484.40Q344.61,470.05 333.80,455.70Z"/>
<text transform="matrix(0.404 0 0 0.45 344.7 484.55)" stroke-width="0.75" >/</text>
<path stroke="none" d="M366.10,455.10Q354.70,470.05 366.10,485.00L367.00,484.40Q356.79,470.05 367.00,455.70Z"/>
<text transform="matrix(0.307 0 0 0.3 368.779 477.9)" stroke-width="1.05" font-style="italic">k</text>
<text transform="matrix(0.222 0 0 0.223 382.834 482.2)" stroke-width="0.45" >B</text>
<text transform="matrix(0.36 0 0 0.322 396.756 477.8)" stroke-width="0.94" font-style="italic">T</text>
<path stroke="none" d="M422.00,455.80Q423.70,454.90 424.90,456.30L420.90,465.80L420.00,465.40Z"/>
<path stroke="none" d="M428.20,455.30Q440.00,470.15 428.20,485.00L427.30,484.40Q437.93,470.15 427.30,455.90Z"/>
<text transform="rotate(-90) matrix(0.308 0 0 0.314 -253.447 54.286)" stroke-width="1.03" font-style="italic">G</text>
<text transform="rotate(-90) matrix(0.418 0 0 0.427 -229.8 60.573)" stroke-width="0.76" >/</text>
<text transform="rotate(-90) matrix(0.317 0 0 0.314 -217.903 54.286)" stroke-width="1.01" font-style="italic">G</text>
<text transform="rotate(-90) matrix(0.202 0 0 0.206 -195.51 58.988)" stroke-width="0.49" >0</text>
<text transform="rotate(90) matrix(0.333 0 0 0.302 169.667 -663.4)" stroke-width="1.01" font-style="italic">T</text>
<g transform="rotate(90)"><path stroke="none" d="M194.60,-685.00Q196.30,-685.90 197.50,-684.50L192.40,-675.20L191.50,-675.60Z"/></g>
<g transform="rotate(90)"><path stroke="none" d="M215.70,-684.40Q199.50,-669.95 215.70,-655.50L216.60,-656.10Q201.49,-669.95 216.60,-683.80Z"/></g>
<text transform="rotate(90) matrix(0.271 0 0 0.306 216.057 -663.1)" stroke-width="1.11" >mK</text>
<g transform="rotate(90)"><path stroke="none" d="M257.40,-684.40Q274.80,-669.95 257.40,-655.50L256.50,-656.10Q272.81,-669.95 256.50,-683.80Z"/></g>
<text transform="matrix(0.329 0 0 0.309 4.142 535.8)" stroke-width="1.00" font-weight="bold">B</text>
<text transform="matrix(0.319 0 0 0.302 156.881 565.7)" stroke-width="1.03" font-style="italic">B</text>
<path stroke="none" d="M186.90,555.15h18.50v1.2h-18.50ZM186.90,560.15h18.50v1.2h-18.50Z"/>
<text transform="matrix(0.263 0 0 0.285 213.95 565.7)" stroke-width="1.17" >2</text>
<text transform="matrix(0.302 0 0 0.297 235.796 565.7)" stroke-width="1.07" >T</text>
<text transform="matrix(0.334 0 0 0.298 152.285 792.8)" stroke-width="1.01" font-style="italic">T</text>
<path stroke="none" d="M176.50,772.10Q178.20,771.20 179.40,772.60L175.20,781.60L174.30,781.20Z"/>
<path stroke="none" d="M196.90,771.30Q184.30,786.15 196.90,801.00L197.80,800.40Q186.37,786.15 197.80,771.90Z"/>
<text transform="matrix(0.278 0 0 0.306 198.744 793.1)" stroke-width="1.10" >mK</text>
<path stroke="none" d="M242.60,771.30Q255.20,786.15 242.60,801.00L241.70,800.40Q253.13,786.15 241.70,771.90Z"/>
<text transform="rotate(-90) matrix(0.311 0 0 0.308 -676.766 21.092)" stroke-width="1.03" font-style="italic">G</text>
<g transform="rotate(-90)"><path stroke="none" d="M-637.00,0.00Q-648.80,14.05 -637.00,28.10L-636.10,27.50Q-646.89,14.05 -636.10,0.60Z"/></g>
<text transform="rotate(-90) matrix(0.301 0 0 0.269 -634.771 21.358)" stroke-width="1.12" font-style="italic">μ</text>
<text transform="rotate(-90) matrix(0.283 0 0 0.303 -619.583 20.794)" stroke-width="1.09" >S</text>
<g transform="rotate(-90)"><path stroke="none" d="M-603.70,0.00Q-590.90,14.05 -603.70,28.10L-604.60,27.50Q-592.81,14.05 -604.60,0.60Z"/></g>
<text transform="matrix(0.341 0 0 0.305 369.962 535.595)" stroke-width="0.99" font-weight="bold">C</text>
<text transform="matrix(0.331 0 0 0.295 525.825 793)" stroke-width="1.02" font-style="italic">B</text>
<path stroke="none" d="M564.10,771.40Q551.90,786.20 564.10,801.00L565.00,800.40Q553.96,786.20 565.00,772.00Z"/>
<text transform="matrix(0.331 0 0 0.295 565.11 793)" stroke-width="1.02" >T</text>
<path stroke="none" d="M586.30,771.40Q597.30,786.20 586.30,801.00L585.40,800.40Q595.24,786.20 585.40,772.00Z"/>
<text transform="rotate(-90) matrix(0.308 0 0 0.281 -644.024 379.519)" stroke-width="1.09" font-style="italic">α</text>
<text transform="matrix(0.267 0 0 0.297 67.598 399.7)" stroke-width="1.13">1</text>
<text transform="matrix(0.267 0 0 0.297 67.598 325.7)" stroke-width="1.13">2</text>
<text transform="matrix(0.267 0 0 0.297 67.064 251.7)" stroke-width="1.13">3</text>
<text transform="matrix(0.267 0 0 0.297 66.529 177.7)" stroke-width="1.13">4</text>
<text transform="matrix(0.267 0 0 0.297 67.064 103.7)" stroke-width="1.13">5</text>
<text transform="matrix(0.267 0 0 0.297 66.796 29.7)" stroke-width="1.13">6</text>
<text transform="matrix(0.267 0 0 0.297 109.283 443.7)" stroke-width="1.13">40</text>
<text transform="matrix(0.267 0 0 0.297 213.78 443.7)" stroke-width="1.13">20</text>
<text transform="matrix(0.267 0 0 0.297 315.297 443.7)" stroke-width="1.13">0</text>
<text transform="matrix(0.267 0 0 0.297 413.645 443.7)" stroke-width="1.13">20</text>
<text transform="matrix(0.267 0 0 0.297 518.944 443.7)" stroke-width="1.13">40</text>
<text transform="matrix(0.267 0 0 0.297 611.294 384.8)" stroke-width="1.13">150</text>
<text transform="matrix(0.267 0 0 0.297 612.631 269)" stroke-width="1.13">200</text>
<text transform="matrix(0.267 0 0 0.297 612.631 153.2)" stroke-width="1.13">250</text>
<text transform="matrix(0.267 0 0 0.297 612.363 37.4)" stroke-width="1.13">300</text>
<text transform="matrix(0.267 0 0 0.297 33.349 710.151)" stroke-width="1.13">0.15</text>
<text transform="matrix(0.267 0 0 0.297 33.349 642.085)" stroke-width="1.13">0.20</text>
<text transform="matrix(0.267 0 0 0.297 33.349 589.288)" stroke-width="1.13">0.25</text>
<text transform="matrix(0.267 0 0 0.297 33.349 546.15)" stroke-width="1.13">0.30</text>
<text transform="matrix(0.267 0 0 0.297 180.951 760.2)" stroke-width="1.13">200</text>
<text transform="matrix(0.267 0 0 0.297 290.218 760.2)" stroke-width="1.13">300</text>
<text transform="matrix(0.267 0 0 0.297 390.989 727.1)" stroke-width="1.13">0.25</text>
<text transform="matrix(0.267 0 0 0.297 390.989 651.8)" stroke-width="1.13">0.50</text>
<text transform="matrix(0.267 0 0 0.297 390.989 576.5)" stroke-width="1.13">0.75</text>
<text transform="matrix(0.267 0 0 0.297 436.643 760.2)" stroke-width="1.13">2.0</text>
<text transform="matrix(0.267 0 0 0.297 507.393 760.2)" stroke-width="1.13">2.5</text>
<text transform="matrix(0.267 0 0 0.297 578.009 760.2)" stroke-width="1.13">3.0</text>
<text transform="matrix(0.267 0 0 0.297 648.759 760.2)" stroke-width="1.13">3.5</text>
</g>
<rect x="245.30" y="50.33" width="18.40" height="1.35" fill="#000"/>
<rect x="277.00" y="469.02" width="18.20" height="1.35" fill="#000"/>
<rect x="89.62" y="436.22" width="17.50" height="1.35" fill="#000"/>
<rect x="194.65" y="436.22" width="17.50" height="1.35" fill="#000"/>
</svg>
</body></html>
